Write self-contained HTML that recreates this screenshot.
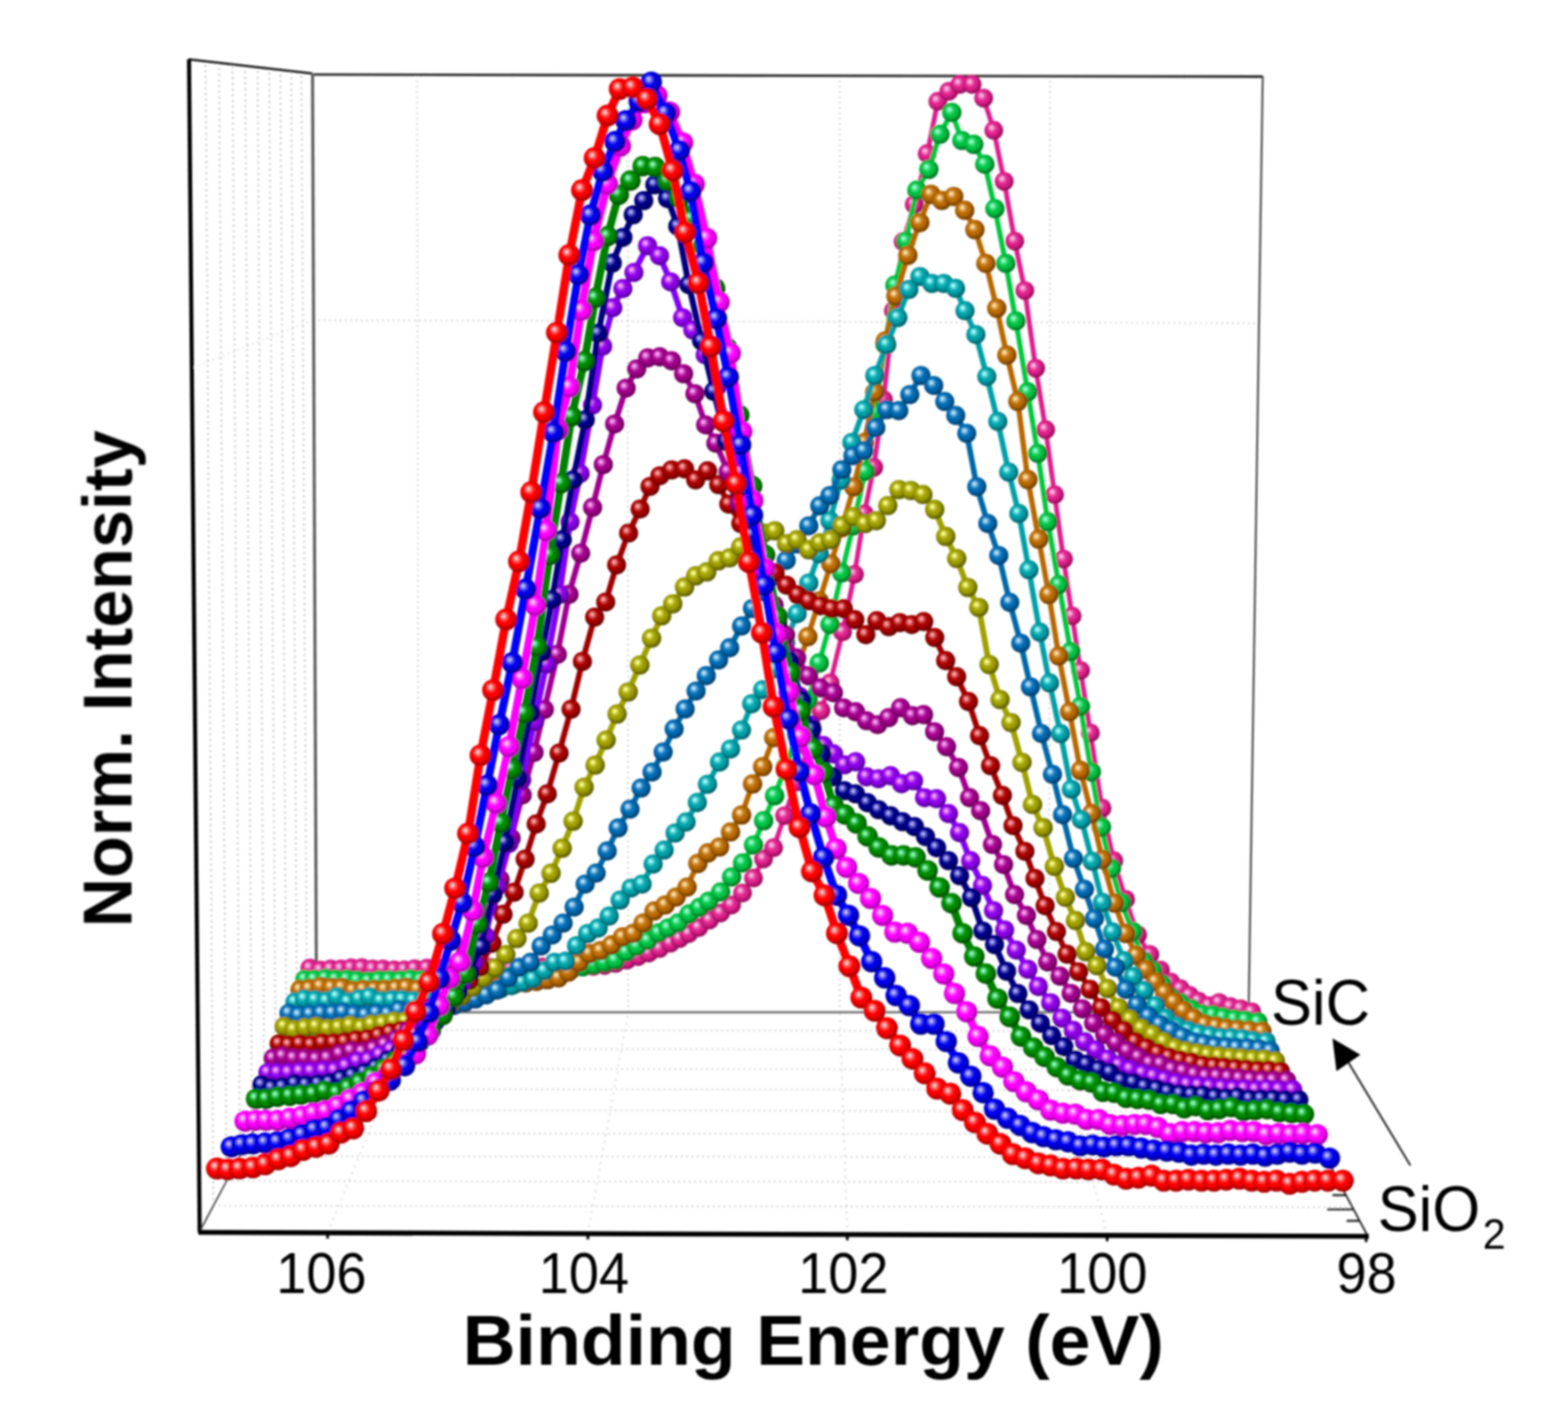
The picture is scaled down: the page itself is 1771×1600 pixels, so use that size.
<!DOCTYPE html>
<html lang="en"><head><meta charset="utf-8"><title>Si 2p XPS depth profile</title>
<style>html,body{margin:0;padding:0;background:#fff}body{width:1771px;height:1600px;overflow:hidden}svg{display:block}text{font-family:"Liberation Sans",sans-serif;fill:#000}</style></head><body>
<svg width="1771" height="1600" viewBox="0 0 1771 1600">
<defs>
<radialGradient id="g-red" cx="0.46" cy="0.45" r="0.58" fx="0.36" fy="0.34"><stop offset="0" stop-color="#ffc4c4"/><stop offset="0.09" stop-color="#ffc4c4"/><stop offset="0.24" stop-color="#ff5858"/><stop offset="0.44" stop-color="#ff0000"/><stop offset="0.58" stop-color="#ff0000"/><stop offset="0.93" stop-color="#a00000"/></radialGradient>
<radialGradient id="g-blue" cx="0.46" cy="0.45" r="0.58" fx="0.36" fy="0.34"><stop offset="0" stop-color="#bcbcff"/><stop offset="0.09" stop-color="#bcbcff"/><stop offset="0.24" stop-color="#5555f5"/><stop offset="0.44" stop-color="#0000ec"/><stop offset="0.58" stop-color="#0000ec"/><stop offset="0.93" stop-color="#000088"/></radialGradient>
<radialGradient id="g-magenta" cx="0.46" cy="0.45" r="0.58" fx="0.36" fy="0.34"><stop offset="0" stop-color="#ffc8ff"/><stop offset="0.09" stop-color="#ffc8ff"/><stop offset="0.24" stop-color="#ff5aff"/><stop offset="0.44" stop-color="#ff00ff"/><stop offset="0.58" stop-color="#ff00ff"/><stop offset="0.93" stop-color="#a800a8"/></radialGradient>
<radialGradient id="g-green" cx="0.46" cy="0.45" r="0.58" fx="0.36" fy="0.34"><stop offset="0" stop-color="#88ffbc"/><stop offset="0.09" stop-color="#88ffbc"/><stop offset="0.24" stop-color="#3dc055"/><stop offset="0.44" stop-color="#008c00"/><stop offset="0.58" stop-color="#008c00"/><stop offset="0.93" stop-color="#004c00"/></radialGradient>
<radialGradient id="g-navy" cx="0.46" cy="0.45" r="0.58" fx="0.36" fy="0.34"><stop offset="0" stop-color="#b0b0ff"/><stop offset="0.09" stop-color="#b0b0ff"/><stop offset="0.24" stop-color="#4f4fc0"/><stop offset="0.44" stop-color="#00008c"/><stop offset="0.58" stop-color="#00008c"/><stop offset="0.93" stop-color="#00004c"/></radialGradient>
<radialGradient id="g-violet" cx="0.46" cy="0.45" r="0.58" fx="0.36" fy="0.34"><stop offset="0" stop-color="#ffa8ff"/><stop offset="0.09" stop-color="#ffa8ff"/><stop offset="0.24" stop-color="#c24cf5"/><stop offset="0.44" stop-color="#9000ec"/><stop offset="0.58" stop-color="#9000ec"/><stop offset="0.93" stop-color="#520094"/></radialGradient>
<radialGradient id="g-purple" cx="0.46" cy="0.45" r="0.58" fx="0.36" fy="0.34"><stop offset="0" stop-color="#ffa8ff"/><stop offset="0.09" stop-color="#ffa8ff"/><stop offset="0.24" stop-color="#cd4cc0"/><stop offset="0.44" stop-color="#a4008c"/><stop offset="0.58" stop-color="#a4008c"/><stop offset="0.93" stop-color="#600052"/></radialGradient>
<radialGradient id="g-darkred" cx="0.46" cy="0.45" r="0.58" fx="0.36" fy="0.34"><stop offset="0" stop-color="#ffa8a8"/><stop offset="0.09" stop-color="#ffa8a8"/><stop offset="0.24" stop-color="#d14c4c"/><stop offset="0.44" stop-color="#ac0000"/><stop offset="0.58" stop-color="#ac0000"/><stop offset="0.93" stop-color="#600000"/></radialGradient>
<radialGradient id="g-olive" cx="0.46" cy="0.45" r="0.58" fx="0.36" fy="0.34"><stop offset="0" stop-color="#ffff90"/><stop offset="0.09" stop-color="#ffff90"/><stop offset="0.24" stop-color="#cbcb41"/><stop offset="0.44" stop-color="#a0a000"/><stop offset="0.58" stop-color="#a0a000"/><stop offset="0.93" stop-color="#585800"/></radialGradient>
<radialGradient id="g-steel" cx="0.46" cy="0.45" r="0.58" fx="0.36" fy="0.34"><stop offset="0" stop-color="#b8e8ff"/><stop offset="0.09" stop-color="#b8e8ff"/><stop offset="0.24" stop-color="#53a4d6"/><stop offset="0.44" stop-color="#006cb4"/><stop offset="0.58" stop-color="#006cb4"/><stop offset="0.93" stop-color="#003c68"/></radialGradient>
<radialGradient id="g-teal" cx="0.46" cy="0.45" r="0.58" fx="0.36" fy="0.34"><stop offset="0" stop-color="#a8ffff"/><stop offset="0.09" stop-color="#a8ffff"/><stop offset="0.24" stop-color="#4ccdd1"/><stop offset="0.44" stop-color="#00a4ac"/><stop offset="0.58" stop-color="#00a4ac"/><stop offset="0.93" stop-color="#005c64"/></radialGradient>
<radialGradient id="g-brown" cx="0.46" cy="0.45" r="0.58" fx="0.36" fy="0.34"><stop offset="0" stop-color="#ffe4a8"/><stop offset="0.09" stop-color="#ffe4a8"/><stop offset="0.24" stop-color="#daa24e"/><stop offset="0.44" stop-color="#bc6c04"/><stop offset="0.58" stop-color="#bc6c04"/><stop offset="0.93" stop-color="#6c3a00"/></radialGradient>
<radialGradient id="g-sgreen" cx="0.46" cy="0.45" r="0.58" fx="0.36" fy="0.34"><stop offset="0" stop-color="#98ffd0"/><stop offset="0.09" stop-color="#98ffd0"/><stop offset="0.24" stop-color="#44df83"/><stop offset="0.44" stop-color="#00c444"/><stop offset="0.58" stop-color="#00c444"/><stop offset="0.93" stop-color="#007020"/></radialGradient>
<radialGradient id="g-pink" cx="0.46" cy="0.45" r="0.58" fx="0.36" fy="0.34"><stop offset="0" stop-color="#ffc0ec"/><stop offset="0.09" stop-color="#ffc0ec"/><stop offset="0.24" stop-color="#ee68b7"/><stop offset="0.44" stop-color="#e0208c"/><stop offset="0.58" stop-color="#e0208c"/><stop offset="0.93" stop-color="#8c0a54"/></radialGradient>
<filter id="soft" x="-2%" y="-2%" width="104%" height="104%"><feGaussianBlur stdDeviation="1.05"/></filter>
</defs>
<rect width="1771" height="1600" fill="#fff"/>
<g filter="url(#soft)">
<g id="frame" fill="none">
<line x1="471.0" y1="85.0" x2="473.0" y2="1143.0" stroke="#c6c6c6" stroke-width="1.6" stroke-dasharray="2 4"/>
<line x1="709.0" y1="85.0" x2="709.5" y2="1143.0" stroke="#c6c6c6" stroke-width="1.6" stroke-dasharray="2 4"/>
<line x1="948.5" y1="85.0" x2="948.5" y2="1143.0" stroke="#c6c6c6" stroke-width="1.6" stroke-dasharray="2 4"/>
<line x1="1186.0" y1="85.0" x2="1185.0" y2="1143.0" stroke="#c6c6c6" stroke-width="1.6" stroke-dasharray="2 4"/>
<line x1="353.5" y1="361.5" x2="1425.0" y2="365.0" stroke="#c6c6c6" stroke-width="1.6" stroke-dasharray="2 4"/>
<line x1="353.5" y1="361.5" x2="216.0" y2="416.0" stroke="#d8d8d8" stroke-width="1.4" stroke-dasharray="2 4"/>
<line x1="346.8" y1="1163.0" x2="1420.9" y2="1164.5" stroke="#c6c6c6" stroke-width="1.6" stroke-dasharray="2 4"/>
<line x1="346.8" y1="1163.0" x2="340.4" y2="81.7" stroke="#b4b4b4" stroke-width="1.6" stroke-dasharray="2.2 4.2"/>
<line x1="335.6" y1="1184.0" x2="1432.1" y2="1185.5" stroke="#c6c6c6" stroke-width="1.6" stroke-dasharray="2 4"/>
<line x1="335.6" y1="1184.0" x2="328.9" y2="80.4" stroke="#b4b4b4" stroke-width="1.6" stroke-dasharray="2.2 4.2"/>
<line x1="323.6" y1="1206.5" x2="1444.1" y2="1208.0" stroke="#c6c6c6" stroke-width="1.6" stroke-dasharray="2 4"/>
<line x1="323.6" y1="1206.5" x2="316.7" y2="78.9" stroke="#b4b4b4" stroke-width="1.6" stroke-dasharray="2.2 4.2"/>
<line x1="311.4" y1="1229.5" x2="1456.4" y2="1231.0" stroke="#c6c6c6" stroke-width="1.6" stroke-dasharray="2 4"/>
<line x1="311.4" y1="1229.5" x2="304.1" y2="77.4" stroke="#b4b4b4" stroke-width="1.6" stroke-dasharray="2.2 4.2"/>
<line x1="298.6" y1="1253.5" x2="1469.1" y2="1255.0" stroke="#c6c6c6" stroke-width="1.6" stroke-dasharray="2 4"/>
<line x1="298.6" y1="1253.5" x2="291.0" y2="75.9" stroke="#b4b4b4" stroke-width="1.6" stroke-dasharray="2.2 4.2"/>
<line x1="284.7" y1="1279.5" x2="1483.0" y2="1281.0" stroke="#c6c6c6" stroke-width="1.6" stroke-dasharray="2 4"/>
<line x1="284.7" y1="1279.5" x2="276.9" y2="74.2" stroke="#b4b4b4" stroke-width="1.6" stroke-dasharray="2.2 4.2"/>
<line x1="270.9" y1="1305.5" x2="1496.8" y2="1307.0" stroke="#c6c6c6" stroke-width="1.6" stroke-dasharray="2 4"/>
<line x1="270.9" y1="1305.5" x2="262.7" y2="72.5" stroke="#b4b4b4" stroke-width="1.6" stroke-dasharray="2.2 4.2"/>
<line x1="255.9" y1="1333.5" x2="1511.7" y2="1335.0" stroke="#c6c6c6" stroke-width="1.6" stroke-dasharray="2 4"/>
<line x1="255.9" y1="1333.5" x2="247.4" y2="70.7" stroke="#b4b4b4" stroke-width="1.6" stroke-dasharray="2.2 4.2"/>
<line x1="241.0" y1="1361.5" x2="1526.6" y2="1363.0" stroke="#c6c6c6" stroke-width="1.6" stroke-dasharray="2 4"/>
<line x1="241.0" y1="1361.5" x2="232.2" y2="68.9" stroke="#b4b4b4" stroke-width="1.6" stroke-dasharray="2.2 4.2"/>
<line x1="370.0" y1="1392.0" x2="472.5" y2="1143.0" stroke="#c8c8c8" stroke-width="1.5" stroke-dasharray="2 6"/>
<line x1="664.0" y1="1393.0" x2="709.5" y2="1143.0" stroke="#c8c8c8" stroke-width="1.5" stroke-dasharray="2 6"/>
<line x1="957.0" y1="1394.0" x2="948.5" y2="1143.0" stroke="#c8c8c8" stroke-width="1.5" stroke-dasharray="2 6"/>
<line x1="1250.5" y1="1395.0" x2="1185.5" y2="1143.0" stroke="#c8c8c8" stroke-width="1.5" stroke-dasharray="2 6"/>
<line x1="357.5" y1="1143.0" x2="1410.3" y2="1143.0" stroke="#6e6e6e" stroke-width="2.6"/>
<line x1="352.5" y1="84.2" x2="1426.2" y2="86.5" stroke="#2a2a2a" stroke-width="2.8"/>
<line x1="353.0" y1="83.0" x2="357.5" y2="1143.0" stroke="#5c5c5c" stroke-width="3.4"/>
<line x1="1426.2" y1="86.0" x2="1410.3" y2="1143.0" stroke="#4a4a4a" stroke-width="2.2"/>
<line x1="213.0" y1="67.0" x2="352.5" y2="83.0" stroke="#111" stroke-width="2.4"/>
<line x1="213.5" y1="67.0" x2="225.5" y2="1391.5" stroke="#000" stroke-width="4.6"/>
<line x1="225.0" y1="1391.5" x2="357.5" y2="1143.0" stroke="#333" stroke-width="1.6"/>
<line x1="1545.0" y1="1396.0" x2="1410.3" y2="1143.0" stroke="#222" stroke-width="2.0"/>
<line x1="224.0" y1="1391.5" x2="1546.0" y2="1396.0" stroke="#000" stroke-width="5.6"/>
<line x1="370.0" y1="1392.0" x2="370.0" y2="1398.5" stroke="#000" stroke-width="3.0"/>
<line x1="664.0" y1="1393.0" x2="664.0" y2="1399.5" stroke="#000" stroke-width="3.0"/>
<line x1="957.0" y1="1394.0" x2="957.0" y2="1400.5" stroke="#000" stroke-width="3.0"/>
<line x1="1250.5" y1="1395.0" x2="1250.5" y2="1401.5" stroke="#000" stroke-width="3.0"/>
<line x1="1543.0" y1="1396.0" x2="1543.0" y2="1402.5" stroke="#000" stroke-width="3.0"/>
<line x1="1505.0" y1="1349.5" x2="1520.0" y2="1349.5" stroke="#111" stroke-width="2.2"/>
<line x1="1499.0" y1="1365.5" x2="1528.0" y2="1365.5" stroke="#111" stroke-width="2.2"/>
<line x1="1521.0" y1="1378.5" x2="1535.0" y2="1378.5" stroke="#111" stroke-width="2.2"/>
</g>
<g id="s-pink">
<polyline points="350.0,1093.1 361.8,1095.4 373.4,1094.2 385.0,1094.1 396.6,1092.9 408.6,1092.7 420.8,1094.0 432.4,1094.0 445.0,1095.1 456.7,1095.0 468.3,1093.8 482.1,1093.0 493.3,1092.8 505.4,1092.6 517.3,1092.5 529.2,1092.4 541.1,1092.3 553.0,1092.2 564.9,1092.2 576.9,1092.1 588.8,1092.1 600.8,1092.0 612.7,1091.9 624.4,1091.9 635.9,1091.7 647.3,1091.6 658.9,1091.4 670.3,1091.2 682.9,1090.1 695.4,1087.7 708.2,1084.1 720.7,1080.1 732.7,1076.1 745.0,1071.0 757.3,1064.9 767.6,1059.7 778.0,1054.1 789.1,1047.4 801.4,1038.8 813.9,1030.8 826.3,1021.8 838.7,1008.3 851.1,991.4 862.4,969.8 873.8,957.2 886.2,921.0 899.5,883.0 912.9,844.5 927.3,802.3 937.8,771.1 951.7,713.4 965.1,648.6 976.2,580.0 986.9,527.7 997.9,451.3 1009.1,350.7 1020.1,272.7 1032.6,230.8 1047.3,173.4 1059.3,114.4 1071.7,103.1 1084.2,95.3 1098.0,95.3 1111.0,110.8 1122.5,147.2 1134.2,204.8 1146.2,272.3 1157.5,328.1 1169.8,415.8 1181.1,485.2 1191.1,558.5 1201.2,631.3 1210.9,695.5 1220.5,757.1 1231.6,827.6 1244.7,912.4 1258.0,971.9 1271.4,1015.6 1285.0,1055.6 1298.7,1077.8 1310.7,1095.3 1322.4,1108.9 1333.2,1116.4 1343.4,1123.8 1353.6,1130.3 1365.3,1135.5 1376.9,1132.1 1389.6,1136.7 1401.2,1139.0 1413.8,1142.5" fill="none" stroke="#e01c8c" stroke-width="5.4" stroke-linejoin="round" stroke-linecap="round"/>
<g fill="url(#g-pink)">
<circle cx="350.0" cy="1093.1" r="10.6"/>
<circle cx="361.8" cy="1095.4" r="10.6"/>
<circle cx="373.4" cy="1094.2" r="10.6"/>
<circle cx="385.0" cy="1094.1" r="10.6"/>
<circle cx="396.6" cy="1092.9" r="10.6"/>
<circle cx="408.6" cy="1092.7" r="10.6"/>
<circle cx="420.8" cy="1094.0" r="10.6"/>
<circle cx="432.4" cy="1094.0" r="10.6"/>
<circle cx="445.0" cy="1095.1" r="10.6"/>
<circle cx="456.7" cy="1095.0" r="10.6"/>
<circle cx="468.3" cy="1093.8" r="10.6"/>
<circle cx="482.1" cy="1093.0" r="10.6"/>
<circle cx="493.3" cy="1092.8" r="10.6"/>
<circle cx="505.4" cy="1092.6" r="10.6"/>
<circle cx="517.3" cy="1092.5" r="10.6"/>
<circle cx="529.2" cy="1092.4" r="10.6"/>
<circle cx="541.1" cy="1092.3" r="10.6"/>
<circle cx="553.0" cy="1092.2" r="10.6"/>
<circle cx="564.9" cy="1092.2" r="10.6"/>
<circle cx="576.9" cy="1092.1" r="10.6"/>
<circle cx="588.8" cy="1092.1" r="10.6"/>
<circle cx="600.8" cy="1092.0" r="10.6"/>
<circle cx="612.7" cy="1091.9" r="10.6"/>
<circle cx="624.4" cy="1091.9" r="10.6"/>
<circle cx="635.9" cy="1091.7" r="10.6"/>
<circle cx="647.3" cy="1091.6" r="10.6"/>
<circle cx="658.9" cy="1091.4" r="10.6"/>
<circle cx="670.3" cy="1091.2" r="10.6"/>
<circle cx="682.9" cy="1090.1" r="10.6"/>
<circle cx="695.4" cy="1087.7" r="10.6"/>
<circle cx="708.2" cy="1084.1" r="10.6"/>
<circle cx="720.7" cy="1080.1" r="10.6"/>
<circle cx="732.7" cy="1076.1" r="10.6"/>
<circle cx="745.0" cy="1071.0" r="10.6"/>
<circle cx="757.3" cy="1064.9" r="10.6"/>
<circle cx="767.6" cy="1059.7" r="10.6"/>
<circle cx="778.0" cy="1054.1" r="10.6"/>
<circle cx="789.1" cy="1047.4" r="10.6"/>
<circle cx="801.4" cy="1038.8" r="10.6"/>
<circle cx="813.9" cy="1030.8" r="10.6"/>
<circle cx="826.3" cy="1021.8" r="10.6"/>
<circle cx="838.7" cy="1008.3" r="10.6"/>
<circle cx="851.1" cy="991.4" r="10.6"/>
<circle cx="862.4" cy="969.8" r="10.6"/>
<circle cx="873.8" cy="957.2" r="10.6"/>
<circle cx="886.2" cy="921.0" r="10.6"/>
<circle cx="899.5" cy="883.0" r="10.6"/>
<circle cx="912.9" cy="844.5" r="10.6"/>
<circle cx="927.3" cy="802.3" r="10.6"/>
<circle cx="937.8" cy="771.1" r="10.6"/>
<circle cx="951.7" cy="713.4" r="10.6"/>
<circle cx="965.1" cy="648.6" r="10.6"/>
<circle cx="976.2" cy="580.0" r="10.6"/>
<circle cx="986.9" cy="527.7" r="10.6"/>
<circle cx="997.9" cy="451.3" r="10.6"/>
<circle cx="1009.1" cy="350.7" r="10.6"/>
<circle cx="1020.1" cy="272.7" r="10.6"/>
<circle cx="1032.6" cy="230.8" r="10.6"/>
<circle cx="1047.3" cy="173.4" r="10.6"/>
<circle cx="1059.3" cy="114.4" r="10.6"/>
<circle cx="1071.7" cy="103.1" r="10.6"/>
<circle cx="1084.2" cy="95.3" r="10.6"/>
<circle cx="1098.0" cy="95.3" r="10.6"/>
<circle cx="1111.0" cy="110.8" r="10.6"/>
<circle cx="1122.5" cy="147.2" r="10.6"/>
<circle cx="1134.2" cy="204.8" r="10.6"/>
<circle cx="1146.2" cy="272.3" r="10.6"/>
<circle cx="1157.5" cy="328.1" r="10.6"/>
<circle cx="1169.8" cy="415.8" r="10.6"/>
<circle cx="1181.1" cy="485.2" r="10.6"/>
<circle cx="1191.1" cy="558.5" r="10.6"/>
<circle cx="1201.2" cy="631.3" r="10.6"/>
<circle cx="1210.9" cy="695.5" r="10.6"/>
<circle cx="1220.5" cy="757.1" r="10.6"/>
<circle cx="1231.6" cy="827.6" r="10.6"/>
<circle cx="1244.7" cy="912.4" r="10.6"/>
<circle cx="1258.0" cy="971.9" r="10.6"/>
<circle cx="1271.4" cy="1015.6" r="10.6"/>
<circle cx="1285.0" cy="1055.6" r="10.6"/>
<circle cx="1298.7" cy="1077.8" r="10.6"/>
<circle cx="1310.7" cy="1095.3" r="10.6"/>
<circle cx="1322.4" cy="1108.9" r="10.6"/>
<circle cx="1333.2" cy="1116.4" r="10.6"/>
<circle cx="1343.4" cy="1123.8" r="10.6"/>
<circle cx="1353.6" cy="1130.3" r="10.6"/>
<circle cx="1365.3" cy="1135.5" r="10.6"/>
<circle cx="1376.9" cy="1132.1" r="10.6"/>
<circle cx="1389.6" cy="1136.7" r="10.6"/>
<circle cx="1401.2" cy="1139.0" r="10.6"/>
<circle cx="1413.8" cy="1142.5" r="10.6"/>
</g></g>
<g id="s-sgreen">
<polyline points="344.4,1105.8 355.0,1105.8 367.6,1104.6 379.2,1105.7 391.9,1105.7 403.5,1106.8 416.1,1107.9 427.8,1106.7 439.4,1106.6 452.0,1106.6 463.6,1105.4 475.2,1106.5 487.9,1106.4 500.1,1106.2 512.7,1105.9 525.3,1105.5 537.6,1105.0 549.7,1104.3 561.8,1103.5 573.8,1102.6 585.9,1101.5 598.0,1100.2 610.1,1098.9 622.1,1097.3 634.2,1095.6 646.3,1093.7 658.4,1091.6 670.6,1089.3 682.7,1086.8 694.7,1084.1 707.2,1075.0 719.3,1068.5 731.7,1061.9 743.7,1053.3 754.6,1047.8 766.0,1042.1 778.3,1032.0 789.9,1024.7 800.3,1017.7 813.9,1007.1 826.3,990.2 838.7,974.4 851.1,954.1 862.5,926.7 874.9,898.5 887.4,865.7 899.9,830.0 912.7,790.7 925.3,748.5 937.4,705.0 950.8,646.7 963.6,593.7 977.3,532.1 988.3,465.5 999.5,388.6 1010.8,322.0 1023.2,272.3 1035.6,214.7 1049.1,191.3 1061.6,151.6 1075.0,126.9 1086.4,158.6 1099.8,163.0 1112.3,185.4 1123.7,235.6 1136.0,297.4 1147.4,362.4 1160.8,442.4 1172.1,511.9 1183.5,589.2 1195.9,660.1 1209.3,735.7 1220.3,797.6 1232.6,871.5 1244.0,934.0 1255.3,980.5 1266.7,1019.2 1279.4,1051.9 1291.4,1084.8 1301.7,1095.9 1311.9,1111.0 1322.1,1125.6 1333.1,1132.1 1345.6,1139.0 1357.3,1144.8 1369.9,1146.0 1381.6,1148.3 1394.2,1150.6 1406.6,1151.8 1420.7,1154.0" fill="none" stroke="#00c83c" stroke-width="5.7" stroke-linejoin="round" stroke-linecap="round"/>
<g fill="url(#g-sgreen)">
<circle cx="344.4" cy="1105.8" r="10.9"/>
<circle cx="355.0" cy="1105.8" r="10.9"/>
<circle cx="367.6" cy="1104.6" r="10.9"/>
<circle cx="379.2" cy="1105.7" r="10.9"/>
<circle cx="391.9" cy="1105.7" r="10.9"/>
<circle cx="403.5" cy="1106.8" r="10.9"/>
<circle cx="416.1" cy="1107.9" r="10.9"/>
<circle cx="427.8" cy="1106.7" r="10.9"/>
<circle cx="439.4" cy="1106.6" r="10.9"/>
<circle cx="452.0" cy="1106.6" r="10.9"/>
<circle cx="463.6" cy="1105.4" r="10.9"/>
<circle cx="475.2" cy="1106.5" r="10.9"/>
<circle cx="487.9" cy="1106.4" r="10.9"/>
<circle cx="500.1" cy="1106.2" r="10.9"/>
<circle cx="512.7" cy="1105.9" r="10.9"/>
<circle cx="525.3" cy="1105.5" r="10.9"/>
<circle cx="537.6" cy="1105.0" r="10.9"/>
<circle cx="549.7" cy="1104.3" r="10.9"/>
<circle cx="561.8" cy="1103.5" r="10.9"/>
<circle cx="573.8" cy="1102.6" r="10.9"/>
<circle cx="585.9" cy="1101.5" r="10.9"/>
<circle cx="598.0" cy="1100.2" r="10.9"/>
<circle cx="610.1" cy="1098.9" r="10.9"/>
<circle cx="622.1" cy="1097.3" r="10.9"/>
<circle cx="634.2" cy="1095.6" r="10.9"/>
<circle cx="646.3" cy="1093.7" r="10.9"/>
<circle cx="658.4" cy="1091.6" r="10.9"/>
<circle cx="670.6" cy="1089.3" r="10.9"/>
<circle cx="682.7" cy="1086.8" r="10.9"/>
<circle cx="694.7" cy="1084.1" r="10.9"/>
<circle cx="707.2" cy="1075.0" r="10.9"/>
<circle cx="719.3" cy="1068.5" r="10.9"/>
<circle cx="731.7" cy="1061.9" r="10.9"/>
<circle cx="743.7" cy="1053.3" r="10.9"/>
<circle cx="754.6" cy="1047.8" r="10.9"/>
<circle cx="766.0" cy="1042.1" r="10.9"/>
<circle cx="778.3" cy="1032.0" r="10.9"/>
<circle cx="789.9" cy="1024.7" r="10.9"/>
<circle cx="800.3" cy="1017.7" r="10.9"/>
<circle cx="813.9" cy="1007.1" r="10.9"/>
<circle cx="826.3" cy="990.2" r="10.9"/>
<circle cx="838.7" cy="974.4" r="10.9"/>
<circle cx="851.1" cy="954.1" r="10.9"/>
<circle cx="862.5" cy="926.7" r="10.9"/>
<circle cx="874.9" cy="898.5" r="10.9"/>
<circle cx="887.4" cy="865.7" r="10.9"/>
<circle cx="899.9" cy="830.0" r="10.9"/>
<circle cx="912.7" cy="790.7" r="10.9"/>
<circle cx="925.3" cy="748.5" r="10.9"/>
<circle cx="937.4" cy="705.0" r="10.9"/>
<circle cx="950.8" cy="646.7" r="10.9"/>
<circle cx="963.6" cy="593.7" r="10.9"/>
<circle cx="977.3" cy="532.1" r="10.9"/>
<circle cx="988.3" cy="465.5" r="10.9"/>
<circle cx="999.5" cy="388.6" r="10.9"/>
<circle cx="1010.8" cy="322.0" r="10.9"/>
<circle cx="1023.2" cy="272.3" r="10.9"/>
<circle cx="1035.6" cy="214.7" r="10.9"/>
<circle cx="1049.1" cy="191.3" r="10.9"/>
<circle cx="1061.6" cy="151.6" r="10.9"/>
<circle cx="1075.0" cy="126.9" r="10.9"/>
<circle cx="1086.4" cy="158.6" r="10.9"/>
<circle cx="1099.8" cy="163.0" r="10.9"/>
<circle cx="1112.3" cy="185.4" r="10.9"/>
<circle cx="1123.7" cy="235.6" r="10.9"/>
<circle cx="1136.0" cy="297.4" r="10.9"/>
<circle cx="1147.4" cy="362.4" r="10.9"/>
<circle cx="1160.8" cy="442.4" r="10.9"/>
<circle cx="1172.1" cy="511.9" r="10.9"/>
<circle cx="1183.5" cy="589.2" r="10.9"/>
<circle cx="1195.9" cy="660.1" r="10.9"/>
<circle cx="1209.3" cy="735.7" r="10.9"/>
<circle cx="1220.3" cy="797.6" r="10.9"/>
<circle cx="1232.6" cy="871.5" r="10.9"/>
<circle cx="1244.0" cy="934.0" r="10.9"/>
<circle cx="1255.3" cy="980.5" r="10.9"/>
<circle cx="1266.7" cy="1019.2" r="10.9"/>
<circle cx="1279.4" cy="1051.9" r="10.9"/>
<circle cx="1291.4" cy="1084.8" r="10.9"/>
<circle cx="1301.7" cy="1095.9" r="10.9"/>
<circle cx="1311.9" cy="1111.0" r="10.9"/>
<circle cx="1322.1" cy="1125.6" r="10.9"/>
<circle cx="1333.1" cy="1132.1" r="10.9"/>
<circle cx="1345.6" cy="1139.0" r="10.9"/>
<circle cx="1357.3" cy="1144.8" r="10.9"/>
<circle cx="1369.9" cy="1146.0" r="10.9"/>
<circle cx="1381.6" cy="1148.3" r="10.9"/>
<circle cx="1394.2" cy="1150.6" r="10.9"/>
<circle cx="1406.6" cy="1151.8" r="10.9"/>
<circle cx="1420.7" cy="1154.0" r="10.9"/>
</g></g>
<g id="s-brown">
<polyline points="338.9,1117.5 349.4,1116.2 361.9,1113.8 374.5,1115.0 386.2,1114.9 398.8,1118.3 410.5,1117.1 423.1,1117.1 434.7,1117.1 447.4,1115.9 459.0,1114.7 471.6,1116.9 483.7,1116.8 495.9,1116.6 508.2,1116.3 520.4,1115.9 532.5,1115.3 544.6,1114.5 556.8,1113.6 568.9,1112.5 581.1,1111.3 593.6,1109.8 606.0,1108.1 618.2,1106.2 630.8,1104.0 642.1,1097.5 654.0,1086.6 665.6,1076.7 678.1,1073.3 690.6,1067.0 703.1,1057.9 715.1,1053.9 726.4,1042.2 738.8,1028.6 751.2,1021.9 763.6,1012.8 776.0,1001.6 788.2,975.0 799.6,963.0 812.7,956.3 825.1,939.4 837.6,920.2 850.0,885.2 861.4,865.7 873.8,832.9 886.7,796.2 899.5,758.1 912.4,718.9 925.3,678.6 938.4,636.6 951.0,595.9 964.3,549.8 976.1,499.5 988.0,442.7 1000.0,384.9 1011.9,334.3 1025.4,288.3 1038.9,251.3 1051.4,219.5 1063.8,226.3 1077.2,221.8 1089.6,237.4 1101.1,259.2 1113.5,297.4 1125.8,348.0 1137.2,401.0 1149.6,453.2 1160.9,541.5 1173.2,608.7 1184.6,671.2 1195.8,740.6 1208.0,803.6 1220.3,870.0 1232.8,918.6 1245.2,970.5 1258.6,1019.7 1271.3,1054.0 1283.4,1078.6 1294.5,1094.7 1305.2,1108.5 1315.5,1120.6 1325.9,1131.3 1336.7,1141.0 1348.1,1149.5 1360.7,1156.4 1373.4,1158.7 1385.1,1161.0 1397.7,1162.1 1411.0,1163.3 1425.3,1164.5" fill="none" stroke="#b86800" stroke-width="6.0" stroke-linejoin="round" stroke-linecap="round"/>
<g fill="url(#g-brown)">
<circle cx="338.9" cy="1117.5" r="10.9"/>
<circle cx="349.4" cy="1116.2" r="10.9"/>
<circle cx="361.9" cy="1113.8" r="10.9"/>
<circle cx="374.5" cy="1115.0" r="10.9"/>
<circle cx="386.2" cy="1114.9" r="10.9"/>
<circle cx="398.8" cy="1118.3" r="10.9"/>
<circle cx="410.5" cy="1117.1" r="10.9"/>
<circle cx="423.1" cy="1117.1" r="10.9"/>
<circle cx="434.7" cy="1117.1" r="10.9"/>
<circle cx="447.4" cy="1115.9" r="10.9"/>
<circle cx="459.0" cy="1114.7" r="10.9"/>
<circle cx="471.6" cy="1116.9" r="10.9"/>
<circle cx="483.7" cy="1116.8" r="10.9"/>
<circle cx="495.9" cy="1116.6" r="10.9"/>
<circle cx="508.2" cy="1116.3" r="10.9"/>
<circle cx="520.4" cy="1115.9" r="10.9"/>
<circle cx="532.5" cy="1115.3" r="10.9"/>
<circle cx="544.6" cy="1114.5" r="10.9"/>
<circle cx="556.8" cy="1113.6" r="10.9"/>
<circle cx="568.9" cy="1112.5" r="10.9"/>
<circle cx="581.1" cy="1111.3" r="10.9"/>
<circle cx="593.6" cy="1109.8" r="10.9"/>
<circle cx="606.0" cy="1108.1" r="10.9"/>
<circle cx="618.2" cy="1106.2" r="10.9"/>
<circle cx="630.8" cy="1104.0" r="10.9"/>
<circle cx="642.1" cy="1097.5" r="10.9"/>
<circle cx="654.0" cy="1086.6" r="10.9"/>
<circle cx="665.6" cy="1076.7" r="10.9"/>
<circle cx="678.1" cy="1073.3" r="10.9"/>
<circle cx="690.6" cy="1067.0" r="10.9"/>
<circle cx="703.1" cy="1057.9" r="10.9"/>
<circle cx="715.1" cy="1053.9" r="10.9"/>
<circle cx="726.4" cy="1042.2" r="10.9"/>
<circle cx="738.8" cy="1028.6" r="10.9"/>
<circle cx="751.2" cy="1021.9" r="10.9"/>
<circle cx="763.6" cy="1012.8" r="10.9"/>
<circle cx="776.0" cy="1001.6" r="10.9"/>
<circle cx="788.2" cy="975.0" r="10.9"/>
<circle cx="799.6" cy="963.0" r="10.9"/>
<circle cx="812.7" cy="956.3" r="10.9"/>
<circle cx="825.1" cy="939.4" r="10.9"/>
<circle cx="837.6" cy="920.2" r="10.9"/>
<circle cx="850.0" cy="885.2" r="10.9"/>
<circle cx="861.4" cy="865.7" r="10.9"/>
<circle cx="873.8" cy="832.9" r="10.9"/>
<circle cx="886.7" cy="796.2" r="10.9"/>
<circle cx="899.5" cy="758.1" r="10.9"/>
<circle cx="912.4" cy="718.9" r="10.9"/>
<circle cx="925.3" cy="678.6" r="10.9"/>
<circle cx="938.4" cy="636.6" r="10.9"/>
<circle cx="951.0" cy="595.9" r="10.9"/>
<circle cx="964.3" cy="549.8" r="10.9"/>
<circle cx="976.1" cy="499.5" r="10.9"/>
<circle cx="988.0" cy="442.7" r="10.9"/>
<circle cx="1000.0" cy="384.9" r="10.9"/>
<circle cx="1011.9" cy="334.3" r="10.9"/>
<circle cx="1025.4" cy="288.3" r="10.9"/>
<circle cx="1038.9" cy="251.3" r="10.9"/>
<circle cx="1051.4" cy="219.5" r="10.9"/>
<circle cx="1063.8" cy="226.3" r="10.9"/>
<circle cx="1077.2" cy="221.8" r="10.9"/>
<circle cx="1089.6" cy="237.4" r="10.9"/>
<circle cx="1101.1" cy="259.2" r="10.9"/>
<circle cx="1113.5" cy="297.4" r="10.9"/>
<circle cx="1125.8" cy="348.0" r="10.9"/>
<circle cx="1137.2" cy="401.0" r="10.9"/>
<circle cx="1149.6" cy="453.2" r="10.9"/>
<circle cx="1160.9" cy="541.5" r="10.9"/>
<circle cx="1173.2" cy="608.7" r="10.9"/>
<circle cx="1184.6" cy="671.2" r="10.9"/>
<circle cx="1195.8" cy="740.6" r="10.9"/>
<circle cx="1208.0" cy="803.6" r="10.9"/>
<circle cx="1220.3" cy="870.0" r="10.9"/>
<circle cx="1232.8" cy="918.6" r="10.9"/>
<circle cx="1245.2" cy="970.5" r="10.9"/>
<circle cx="1258.6" cy="1019.7" r="10.9"/>
<circle cx="1271.3" cy="1054.0" r="10.9"/>
<circle cx="1283.4" cy="1078.6" r="10.9"/>
<circle cx="1294.5" cy="1094.7" r="10.9"/>
<circle cx="1305.2" cy="1108.5" r="10.9"/>
<circle cx="1315.5" cy="1120.6" r="10.9"/>
<circle cx="1325.9" cy="1131.3" r="10.9"/>
<circle cx="1336.7" cy="1141.0" r="10.9"/>
<circle cx="1348.1" cy="1149.5" r="10.9"/>
<circle cx="1360.7" cy="1156.4" r="10.9"/>
<circle cx="1373.4" cy="1158.7" r="10.9"/>
<circle cx="1385.1" cy="1161.0" r="10.9"/>
<circle cx="1397.7" cy="1162.1" r="10.9"/>
<circle cx="1411.0" cy="1163.3" r="10.9"/>
<circle cx="1425.3" cy="1164.5" r="10.9"/>
</g></g>
<g id="s-teal">
<polyline points="333.1,1131.3 343.7,1127.8 356.1,1128.9 368.7,1130.0 380.4,1125.3 393.1,1131.1 405.7,1127.6 417.4,1125.2 430.1,1129.8 442.7,1128.6 454.4,1128.5 467.0,1129.7 479.3,1129.4 491.7,1128.7 504.2,1127.6 516.7,1126.1 529.0,1124.2 541.3,1121.9 553.5,1119.3 565.6,1116.3 577.7,1112.9 589.9,1109.2 602.0,1105.2 614.7,1096.0 626.2,1086.5 638.7,1085.4 651.2,1067.7 663.7,1054.0 675.6,1047.9 688.0,1034.3 700.4,1016.3 712.8,1002.7 725.2,998.2 737.7,975.6 750.1,959.8 762.5,940.5 774.9,928.1 787.6,906.1 799.1,885.5 812.7,860.4 825.1,845.7 837.5,824.3 849.0,794.6 861.4,778.8 874.4,755.1 887.3,725.8 900.3,692.9 913.5,658.2 925.3,625.1 937.3,587.8 950.0,542.0 962.2,499.5 975.6,462.6 988.1,424.0 1001.6,389.1 1014.1,358.5 1026.5,326.8 1039.0,312.2 1052.5,320.0 1065.9,320.0 1079.3,325.5 1089.9,350.8 1102.2,377.7 1114.6,425.1 1127.0,475.8 1139.3,533.1 1150.7,579.8 1162.1,643.3 1174.4,713.8 1185.4,771.1 1197.8,828.3 1210.1,891.2 1221.5,925.4 1233.8,972.5 1245.2,1019.0 1256.6,1052.3 1269.7,1084.9 1280.1,1102.5 1292.5,1118.3 1305.2,1135.5 1316.8,1149.5 1329.5,1158.7 1342.2,1163.3 1353.8,1166.8 1366.5,1169.1 1379.1,1171.4 1390.8,1171.4 1403.5,1172.5 1415.6,1174.9 1430.0,1176.0" fill="none" stroke="#00a0a8" stroke-width="6.2" stroke-linejoin="round" stroke-linecap="round"/>
<g fill="url(#g-teal)">
<circle cx="333.1" cy="1131.3" r="10.8"/>
<circle cx="343.7" cy="1127.8" r="10.8"/>
<circle cx="356.1" cy="1128.9" r="10.8"/>
<circle cx="368.7" cy="1130.0" r="10.8"/>
<circle cx="380.4" cy="1125.3" r="10.8"/>
<circle cx="393.1" cy="1131.1" r="10.8"/>
<circle cx="405.7" cy="1127.6" r="10.8"/>
<circle cx="417.4" cy="1125.2" r="10.8"/>
<circle cx="430.1" cy="1129.8" r="10.8"/>
<circle cx="442.7" cy="1128.6" r="10.8"/>
<circle cx="454.4" cy="1128.5" r="10.8"/>
<circle cx="467.0" cy="1129.7" r="10.8"/>
<circle cx="479.3" cy="1129.4" r="10.8"/>
<circle cx="491.7" cy="1128.7" r="10.8"/>
<circle cx="504.2" cy="1127.6" r="10.8"/>
<circle cx="516.7" cy="1126.1" r="10.8"/>
<circle cx="529.0" cy="1124.2" r="10.8"/>
<circle cx="541.3" cy="1121.9" r="10.8"/>
<circle cx="553.5" cy="1119.3" r="10.8"/>
<circle cx="565.6" cy="1116.3" r="10.8"/>
<circle cx="577.7" cy="1112.9" r="10.8"/>
<circle cx="589.9" cy="1109.2" r="10.8"/>
<circle cx="602.0" cy="1105.2" r="10.8"/>
<circle cx="614.7" cy="1096.0" r="10.8"/>
<circle cx="626.2" cy="1086.5" r="10.8"/>
<circle cx="638.7" cy="1085.4" r="10.8"/>
<circle cx="651.2" cy="1067.7" r="10.8"/>
<circle cx="663.7" cy="1054.0" r="10.8"/>
<circle cx="675.6" cy="1047.9" r="10.8"/>
<circle cx="688.0" cy="1034.3" r="10.8"/>
<circle cx="700.4" cy="1016.3" r="10.8"/>
<circle cx="712.8" cy="1002.7" r="10.8"/>
<circle cx="725.2" cy="998.2" r="10.8"/>
<circle cx="737.7" cy="975.6" r="10.8"/>
<circle cx="750.1" cy="959.8" r="10.8"/>
<circle cx="762.5" cy="940.5" r="10.8"/>
<circle cx="774.9" cy="928.1" r="10.8"/>
<circle cx="787.6" cy="906.1" r="10.8"/>
<circle cx="799.1" cy="885.5" r="10.8"/>
<circle cx="812.7" cy="860.4" r="10.8"/>
<circle cx="825.1" cy="845.7" r="10.8"/>
<circle cx="837.5" cy="824.3" r="10.8"/>
<circle cx="849.0" cy="794.6" r="10.8"/>
<circle cx="861.4" cy="778.8" r="10.8"/>
<circle cx="874.4" cy="755.1" r="10.8"/>
<circle cx="887.3" cy="725.8" r="10.8"/>
<circle cx="900.3" cy="692.9" r="10.8"/>
<circle cx="913.5" cy="658.2" r="10.8"/>
<circle cx="925.3" cy="625.1" r="10.8"/>
<circle cx="937.3" cy="587.8" r="10.8"/>
<circle cx="950.0" cy="542.0" r="10.8"/>
<circle cx="962.2" cy="499.5" r="10.8"/>
<circle cx="975.6" cy="462.6" r="10.8"/>
<circle cx="988.1" cy="424.0" r="10.8"/>
<circle cx="1001.6" cy="389.1" r="10.8"/>
<circle cx="1014.1" cy="358.5" r="10.8"/>
<circle cx="1026.5" cy="326.8" r="10.8"/>
<circle cx="1039.0" cy="312.2" r="10.8"/>
<circle cx="1052.5" cy="320.0" r="10.8"/>
<circle cx="1065.9" cy="320.0" r="10.8"/>
<circle cx="1079.3" cy="325.5" r="10.8"/>
<circle cx="1089.9" cy="350.8" r="10.8"/>
<circle cx="1102.2" cy="377.7" r="10.8"/>
<circle cx="1114.6" cy="425.1" r="10.8"/>
<circle cx="1127.0" cy="475.8" r="10.8"/>
<circle cx="1139.3" cy="533.1" r="10.8"/>
<circle cx="1150.7" cy="579.8" r="10.8"/>
<circle cx="1162.1" cy="643.3" r="10.8"/>
<circle cx="1174.4" cy="713.8" r="10.8"/>
<circle cx="1185.4" cy="771.1" r="10.8"/>
<circle cx="1197.8" cy="828.3" r="10.8"/>
<circle cx="1210.1" cy="891.2" r="10.8"/>
<circle cx="1221.5" cy="925.4" r="10.8"/>
<circle cx="1233.8" cy="972.5" r="10.8"/>
<circle cx="1245.2" cy="1019.0" r="10.8"/>
<circle cx="1256.6" cy="1052.3" r="10.8"/>
<circle cx="1269.7" cy="1084.9" r="10.8"/>
<circle cx="1280.1" cy="1102.5" r="10.8"/>
<circle cx="1292.5" cy="1118.3" r="10.8"/>
<circle cx="1305.2" cy="1135.5" r="10.8"/>
<circle cx="1316.8" cy="1149.5" r="10.8"/>
<circle cx="1329.5" cy="1158.7" r="10.8"/>
<circle cx="1342.2" cy="1163.3" r="10.8"/>
<circle cx="1353.8" cy="1166.8" r="10.8"/>
<circle cx="1366.5" cy="1169.1" r="10.8"/>
<circle cx="1379.1" cy="1171.4" r="10.8"/>
<circle cx="1390.8" cy="1171.4" r="10.8"/>
<circle cx="1403.5" cy="1172.5" r="10.8"/>
<circle cx="1415.6" cy="1174.9" r="10.8"/>
<circle cx="1430.0" cy="1176.0" r="10.8"/>
</g></g>
<g id="s-steel">
<polyline points="326.4,1144.0 337.6,1146.3 350.3,1145.1 363.0,1143.9 375.7,1143.8 387.4,1142.6 400.0,1144.9 412.7,1146.0 425.4,1143.7 438.1,1144.8 450.8,1140.1 463.5,1141.2 475.7,1140.8 488.1,1139.7 500.4,1137.8 512.6,1135.3 524.8,1132.0 537.0,1128.0 549.3,1123.3 561.6,1117.9 574.3,1104.1 586.2,1092.2 599.2,1086.6 611.2,1068.2 623.8,1055.7 636.0,1042.3 648.5,1024.2 660.9,998.2 673.3,985.8 685.8,960.9 698.2,934.8 711.6,913.6 724.1,889.8 736.5,871.7 749.0,849.1 761.4,823.1 773.8,800.5 786.2,780.2 797.7,762.9 811.6,745.1 824.1,731.4 837.6,706.8 849.9,687.0 862.6,668.3 875.3,650.4 888.0,632.7 900.6,614.2 913.5,593.7 925.9,571.1 937.4,559.5 950.8,530.3 963.3,514.5 975.7,508.8 989.2,482.9 1001.7,462.5 1015.1,463.6 1027.6,445.5 1040.2,424.0 1054.6,435.2 1067.1,453.3 1079.5,469.1 1091.9,489.3 1103.3,549.5 1115.7,591.1 1128.1,627.2 1140.5,680.1 1152.9,726.2 1163.9,775.5 1176.3,828.2 1188.7,874.3 1200.1,919.9 1212.4,969.3 1224.8,1004.1 1236.1,1037.1 1247.5,1071.6 1260.0,1092.0 1271.7,1117.2 1284.4,1134.4 1297.1,1147.1 1309.8,1156.4 1322.5,1163.3 1335.2,1170.2 1347.9,1176.0 1359.6,1178.3 1372.2,1180.6 1384.9,1181.8 1396.6,1182.9 1409.3,1182.9 1422.0,1184.1 1434.6,1186.4" fill="none" stroke="#0068a8" stroke-width="6.3" stroke-linejoin="round" stroke-linecap="round"/>
<g fill="url(#g-steel)">
<circle cx="326.4" cy="1144.0" r="10.8"/>
<circle cx="337.6" cy="1146.3" r="10.8"/>
<circle cx="350.3" cy="1145.1" r="10.8"/>
<circle cx="363.0" cy="1143.9" r="10.8"/>
<circle cx="375.7" cy="1143.8" r="10.8"/>
<circle cx="387.4" cy="1142.6" r="10.8"/>
<circle cx="400.0" cy="1144.9" r="10.8"/>
<circle cx="412.7" cy="1146.0" r="10.8"/>
<circle cx="425.4" cy="1143.7" r="10.8"/>
<circle cx="438.1" cy="1144.8" r="10.8"/>
<circle cx="450.8" cy="1140.1" r="10.8"/>
<circle cx="463.5" cy="1141.2" r="10.8"/>
<circle cx="475.7" cy="1140.8" r="10.8"/>
<circle cx="488.1" cy="1139.7" r="10.8"/>
<circle cx="500.4" cy="1137.8" r="10.8"/>
<circle cx="512.6" cy="1135.3" r="10.8"/>
<circle cx="524.8" cy="1132.0" r="10.8"/>
<circle cx="537.0" cy="1128.0" r="10.8"/>
<circle cx="549.3" cy="1123.3" r="10.8"/>
<circle cx="561.6" cy="1117.9" r="10.8"/>
<circle cx="574.3" cy="1104.1" r="10.8"/>
<circle cx="586.2" cy="1092.2" r="10.8"/>
<circle cx="599.2" cy="1086.6" r="10.8"/>
<circle cx="611.2" cy="1068.2" r="10.8"/>
<circle cx="623.8" cy="1055.7" r="10.8"/>
<circle cx="636.0" cy="1042.3" r="10.8"/>
<circle cx="648.5" cy="1024.2" r="10.8"/>
<circle cx="660.9" cy="998.2" r="10.8"/>
<circle cx="673.3" cy="985.8" r="10.8"/>
<circle cx="685.8" cy="960.9" r="10.8"/>
<circle cx="698.2" cy="934.8" r="10.8"/>
<circle cx="711.6" cy="913.6" r="10.8"/>
<circle cx="724.1" cy="889.8" r="10.8"/>
<circle cx="736.5" cy="871.7" r="10.8"/>
<circle cx="749.0" cy="849.1" r="10.8"/>
<circle cx="761.4" cy="823.1" r="10.8"/>
<circle cx="773.8" cy="800.5" r="10.8"/>
<circle cx="786.2" cy="780.2" r="10.8"/>
<circle cx="797.7" cy="762.9" r="10.8"/>
<circle cx="811.6" cy="745.1" r="10.8"/>
<circle cx="824.1" cy="731.4" r="10.8"/>
<circle cx="837.6" cy="706.8" r="10.8"/>
<circle cx="849.9" cy="687.0" r="10.8"/>
<circle cx="862.6" cy="668.3" r="10.8"/>
<circle cx="875.3" cy="650.4" r="10.8"/>
<circle cx="888.0" cy="632.7" r="10.8"/>
<circle cx="900.6" cy="614.2" r="10.8"/>
<circle cx="913.5" cy="593.7" r="10.8"/>
<circle cx="925.9" cy="571.1" r="10.8"/>
<circle cx="937.4" cy="559.5" r="10.8"/>
<circle cx="950.8" cy="530.3" r="10.8"/>
<circle cx="963.3" cy="514.5" r="10.8"/>
<circle cx="975.7" cy="508.8" r="10.8"/>
<circle cx="989.2" cy="482.9" r="10.8"/>
<circle cx="1001.7" cy="462.5" r="10.8"/>
<circle cx="1015.1" cy="463.6" r="10.8"/>
<circle cx="1027.6" cy="445.5" r="10.8"/>
<circle cx="1040.2" cy="424.0" r="10.8"/>
<circle cx="1054.6" cy="435.2" r="10.8"/>
<circle cx="1067.1" cy="453.3" r="10.8"/>
<circle cx="1079.5" cy="469.1" r="10.8"/>
<circle cx="1091.9" cy="489.3" r="10.8"/>
<circle cx="1103.3" cy="549.5" r="10.8"/>
<circle cx="1115.7" cy="591.1" r="10.8"/>
<circle cx="1128.1" cy="627.2" r="10.8"/>
<circle cx="1140.5" cy="680.1" r="10.8"/>
<circle cx="1152.9" cy="726.2" r="10.8"/>
<circle cx="1163.9" cy="775.5" r="10.8"/>
<circle cx="1176.3" cy="828.2" r="10.8"/>
<circle cx="1188.7" cy="874.3" r="10.8"/>
<circle cx="1200.1" cy="919.9" r="10.8"/>
<circle cx="1212.4" cy="969.3" r="10.8"/>
<circle cx="1224.8" cy="1004.1" r="10.8"/>
<circle cx="1236.1" cy="1037.1" r="10.8"/>
<circle cx="1247.5" cy="1071.6" r="10.8"/>
<circle cx="1260.0" cy="1092.0" r="10.8"/>
<circle cx="1271.7" cy="1117.2" r="10.8"/>
<circle cx="1284.4" cy="1134.4" r="10.8"/>
<circle cx="1297.1" cy="1147.1" r="10.8"/>
<circle cx="1309.8" cy="1156.4" r="10.8"/>
<circle cx="1322.5" cy="1163.3" r="10.8"/>
<circle cx="1335.2" cy="1170.2" r="10.8"/>
<circle cx="1347.9" cy="1176.0" r="10.8"/>
<circle cx="1359.6" cy="1178.3" r="10.8"/>
<circle cx="1372.2" cy="1180.6" r="10.8"/>
<circle cx="1384.9" cy="1181.8" r="10.8"/>
<circle cx="1396.6" cy="1182.9" r="10.8"/>
<circle cx="1409.3" cy="1182.9" r="10.8"/>
<circle cx="1422.0" cy="1184.1" r="10.8"/>
<circle cx="1434.6" cy="1186.4" r="10.8"/>
</g></g>
<g id="s-olive">
<polyline points="321.0,1159.0 331.9,1162.4 344.5,1160.1 357.2,1158.9 370.0,1161.2 382.7,1160.0 395.4,1157.6 408.0,1159.9 419.7,1156.4 432.4,1155.2 445.1,1152.8 457.8,1152.8 470.3,1151.5 483.0,1147.7 495.7,1141.7 508.5,1134.0 521.2,1124.9 533.9,1114.8 546.4,1104.1 559.2,1092.9 571.3,1078.0 583.8,1059.7 596.5,1042.4 609.0,1008.4 622.4,986.0 634.9,957.7 647.3,927.2 659.7,888.8 672.2,863.9 684.6,835.6 697.0,806.2 709.5,781.3 722.7,750.9 735.9,720.6 747.4,695.3 759.8,681.8 773.2,662.7 785.7,650.2 798.2,645.7 811.2,633.2 824.1,629.8 836.6,617.4 849.5,608.7 862.3,602.0 875.0,599.3 888.4,613.9 900.1,609.4 913.5,620.7 926.0,612.8 938.4,609.4 950.9,593.5 963.9,583.4 976.8,591.2 989.7,587.8 1002.7,570.9 1015.3,552.8 1028.8,553.9 1042.3,558.4 1055.7,575.2 1068.2,605.7 1080.6,630.6 1093.1,663.3 1105.5,685.8 1117.2,750.3 1129.5,789.9 1141.9,815.8 1154.3,860.8 1166.2,908.4 1178.1,934.5 1190.9,978.2 1203.3,1013.1 1214.7,1039.4 1226.3,1074.5 1238.9,1090.4 1250.9,1116.1 1263.6,1137.9 1276.3,1150.6 1289.0,1161.0 1301.7,1167.9 1314.4,1176.0 1327.1,1182.9 1339.8,1186.4 1352.5,1188.7 1364.2,1191.0 1376.9,1192.2 1389.6,1193.4 1402.3,1194.5 1415.0,1195.7 1427.7,1195.7 1440.4,1198.0" fill="none" stroke="#a0a000" stroke-width="6.5" stroke-linejoin="round" stroke-linecap="round"/>
<g fill="url(#g-olive)">
<circle cx="321.0" cy="1159.0" r="10.9"/>
<circle cx="331.9" cy="1162.4" r="10.9"/>
<circle cx="344.5" cy="1160.1" r="10.9"/>
<circle cx="357.2" cy="1158.9" r="10.9"/>
<circle cx="370.0" cy="1161.2" r="10.9"/>
<circle cx="382.7" cy="1160.0" r="10.9"/>
<circle cx="395.4" cy="1157.6" r="10.9"/>
<circle cx="408.0" cy="1159.9" r="10.9"/>
<circle cx="419.7" cy="1156.4" r="10.9"/>
<circle cx="432.4" cy="1155.2" r="10.9"/>
<circle cx="445.1" cy="1152.8" r="10.9"/>
<circle cx="457.8" cy="1152.8" r="10.9"/>
<circle cx="470.3" cy="1151.5" r="10.9"/>
<circle cx="483.0" cy="1147.7" r="10.9"/>
<circle cx="495.7" cy="1141.7" r="10.9"/>
<circle cx="508.5" cy="1134.0" r="10.9"/>
<circle cx="521.2" cy="1124.9" r="10.9"/>
<circle cx="533.9" cy="1114.8" r="10.9"/>
<circle cx="546.4" cy="1104.1" r="10.9"/>
<circle cx="559.2" cy="1092.9" r="10.9"/>
<circle cx="571.3" cy="1078.0" r="10.9"/>
<circle cx="583.8" cy="1059.7" r="10.9"/>
<circle cx="596.5" cy="1042.4" r="10.9"/>
<circle cx="609.0" cy="1008.4" r="10.9"/>
<circle cx="622.4" cy="986.0" r="10.9"/>
<circle cx="634.9" cy="957.7" r="10.9"/>
<circle cx="647.3" cy="927.2" r="10.9"/>
<circle cx="659.7" cy="888.8" r="10.9"/>
<circle cx="672.2" cy="863.9" r="10.9"/>
<circle cx="684.6" cy="835.6" r="10.9"/>
<circle cx="697.0" cy="806.2" r="10.9"/>
<circle cx="709.5" cy="781.3" r="10.9"/>
<circle cx="722.7" cy="750.9" r="10.9"/>
<circle cx="735.9" cy="720.6" r="10.9"/>
<circle cx="747.4" cy="695.3" r="10.9"/>
<circle cx="759.8" cy="681.8" r="10.9"/>
<circle cx="773.2" cy="662.7" r="10.9"/>
<circle cx="785.7" cy="650.2" r="10.9"/>
<circle cx="798.2" cy="645.7" r="10.9"/>
<circle cx="811.2" cy="633.2" r="10.9"/>
<circle cx="824.1" cy="629.8" r="10.9"/>
<circle cx="836.6" cy="617.4" r="10.9"/>
<circle cx="849.5" cy="608.7" r="10.9"/>
<circle cx="862.3" cy="602.0" r="10.9"/>
<circle cx="875.0" cy="599.3" r="10.9"/>
<circle cx="888.4" cy="613.9" r="10.9"/>
<circle cx="900.1" cy="609.4" r="10.9"/>
<circle cx="913.5" cy="620.7" r="10.9"/>
<circle cx="926.0" cy="612.8" r="10.9"/>
<circle cx="938.4" cy="609.4" r="10.9"/>
<circle cx="950.9" cy="593.5" r="10.9"/>
<circle cx="963.9" cy="583.4" r="10.9"/>
<circle cx="976.8" cy="591.2" r="10.9"/>
<circle cx="989.7" cy="587.8" r="10.9"/>
<circle cx="1002.7" cy="570.9" r="10.9"/>
<circle cx="1015.3" cy="552.8" r="10.9"/>
<circle cx="1028.8" cy="553.9" r="10.9"/>
<circle cx="1042.3" cy="558.4" r="10.9"/>
<circle cx="1055.7" cy="575.2" r="10.9"/>
<circle cx="1068.2" cy="605.7" r="10.9"/>
<circle cx="1080.6" cy="630.6" r="10.9"/>
<circle cx="1093.1" cy="663.3" r="10.9"/>
<circle cx="1105.5" cy="685.8" r="10.9"/>
<circle cx="1117.2" cy="750.3" r="10.9"/>
<circle cx="1129.5" cy="789.9" r="10.9"/>
<circle cx="1141.9" cy="815.8" r="10.9"/>
<circle cx="1154.3" cy="860.8" r="10.9"/>
<circle cx="1166.2" cy="908.4" r="10.9"/>
<circle cx="1178.1" cy="934.5" r="10.9"/>
<circle cx="1190.9" cy="978.2" r="10.9"/>
<circle cx="1203.3" cy="1013.1" r="10.9"/>
<circle cx="1214.7" cy="1039.4" r="10.9"/>
<circle cx="1226.3" cy="1074.5" r="10.9"/>
<circle cx="1238.9" cy="1090.4" r="10.9"/>
<circle cx="1250.9" cy="1116.1" r="10.9"/>
<circle cx="1263.6" cy="1137.9" r="10.9"/>
<circle cx="1276.3" cy="1150.6" r="10.9"/>
<circle cx="1289.0" cy="1161.0" r="10.9"/>
<circle cx="1301.7" cy="1167.9" r="10.9"/>
<circle cx="1314.4" cy="1176.0" r="10.9"/>
<circle cx="1327.1" cy="1182.9" r="10.9"/>
<circle cx="1339.8" cy="1186.4" r="10.9"/>
<circle cx="1352.5" cy="1188.7" r="10.9"/>
<circle cx="1364.2" cy="1191.0" r="10.9"/>
<circle cx="1376.9" cy="1192.2" r="10.9"/>
<circle cx="1389.6" cy="1193.4" r="10.9"/>
<circle cx="1402.3" cy="1194.5" r="10.9"/>
<circle cx="1415.0" cy="1195.7" r="10.9"/>
<circle cx="1427.7" cy="1195.7" r="10.9"/>
<circle cx="1440.4" cy="1198.0" r="10.9"/>
</g></g>
<g id="s-darkred">
<polyline points="315.3,1178.5 326.3,1179.8 338.8,1178.6 351.5,1179.7 364.2,1177.4 376.9,1177.3 389.6,1176.1 402.3,1173.8 415.0,1172.6 427.8,1169.1 440.5,1165.6 453.2,1163.2 466.0,1158.8 478.9,1152.2 491.9,1143.5 504.8,1133.0 517.4,1120.8 530.1,1107.0 542.4,1092.0 555.8,1065.1 568.2,1032.3 580.7,1007.4 593.1,970.1 605.6,930.4 618.1,896.4 631.5,850.3 645.0,800.8 657.8,746.9 671.6,696.8 684.1,679.7 696.5,637.8 710.0,601.9 723.0,574.7 734.2,549.2 745.3,537.2 758.7,530.5 773.2,529.4 785.7,541.8 799.2,531.6 811.7,547.3 823.1,569.1 836.7,591.0 849.6,611.1 862.6,630.0 875.5,646.8 888.3,660.7 901.1,671.5 913.6,678.3 926.7,683.9 939.5,687.3 952.6,687.3 965.5,699.6 977.9,716.6 990.4,700.8 1003.9,707.5 1016.4,703.0 1029.9,705.2 1043.3,701.8 1055.8,719.8 1068.1,745.9 1080.5,764.1 1093.9,792.1 1106.4,830.6 1118.8,864.5 1132.2,898.1 1144.2,932.2 1157.6,961.2 1169.0,991.9 1180.4,1022.7 1193.2,1051.8 1205.2,1077.4 1218.3,1097.2 1231.2,1117.1 1243.9,1137.9 1256.6,1151.8 1269.4,1163.3 1282.1,1176.0 1294.8,1182.9 1307.5,1188.7 1320.2,1193.3 1332.9,1196.8 1345.6,1199.1 1358.3,1202.6 1371.0,1203.8 1382.7,1204.9 1395.4,1206.1 1408.1,1207.2 1420.8,1208.4 1433.5,1208.4 1446.1,1209.5" fill="none" stroke="#a00000" stroke-width="6.5" stroke-linejoin="round" stroke-linecap="round"/>
<g fill="url(#g-darkred)">
<circle cx="315.3" cy="1178.5" r="10.8"/>
<circle cx="326.3" cy="1179.8" r="10.8"/>
<circle cx="338.8" cy="1178.6" r="10.8"/>
<circle cx="351.5" cy="1179.7" r="10.8"/>
<circle cx="364.2" cy="1177.4" r="10.8"/>
<circle cx="376.9" cy="1177.3" r="10.8"/>
<circle cx="389.6" cy="1176.1" r="10.8"/>
<circle cx="402.3" cy="1173.8" r="10.8"/>
<circle cx="415.0" cy="1172.6" r="10.8"/>
<circle cx="427.8" cy="1169.1" r="10.8"/>
<circle cx="440.5" cy="1165.6" r="10.8"/>
<circle cx="453.2" cy="1163.2" r="10.8"/>
<circle cx="466.0" cy="1158.8" r="10.8"/>
<circle cx="478.9" cy="1152.2" r="10.8"/>
<circle cx="491.9" cy="1143.5" r="10.8"/>
<circle cx="504.8" cy="1133.0" r="10.8"/>
<circle cx="517.4" cy="1120.8" r="10.8"/>
<circle cx="530.1" cy="1107.0" r="10.8"/>
<circle cx="542.4" cy="1092.0" r="10.8"/>
<circle cx="555.8" cy="1065.1" r="10.8"/>
<circle cx="568.2" cy="1032.3" r="10.8"/>
<circle cx="580.7" cy="1007.4" r="10.8"/>
<circle cx="593.1" cy="970.1" r="10.8"/>
<circle cx="605.6" cy="930.4" r="10.8"/>
<circle cx="618.1" cy="896.4" r="10.8"/>
<circle cx="631.5" cy="850.3" r="10.8"/>
<circle cx="645.0" cy="800.8" r="10.8"/>
<circle cx="657.8" cy="746.9" r="10.8"/>
<circle cx="671.6" cy="696.8" r="10.8"/>
<circle cx="684.1" cy="679.7" r="10.8"/>
<circle cx="696.5" cy="637.8" r="10.8"/>
<circle cx="710.0" cy="601.9" r="10.8"/>
<circle cx="723.0" cy="574.7" r="10.8"/>
<circle cx="734.2" cy="549.2" r="10.8"/>
<circle cx="745.3" cy="537.2" r="10.8"/>
<circle cx="758.7" cy="530.5" r="10.8"/>
<circle cx="773.2" cy="529.4" r="10.8"/>
<circle cx="785.7" cy="541.8" r="10.8"/>
<circle cx="799.2" cy="531.6" r="10.8"/>
<circle cx="811.7" cy="547.3" r="10.8"/>
<circle cx="823.1" cy="569.1" r="10.8"/>
<circle cx="836.7" cy="591.0" r="10.8"/>
<circle cx="849.6" cy="611.1" r="10.8"/>
<circle cx="862.6" cy="630.0" r="10.8"/>
<circle cx="875.5" cy="646.8" r="10.8"/>
<circle cx="888.3" cy="660.7" r="10.8"/>
<circle cx="901.1" cy="671.5" r="10.8"/>
<circle cx="913.6" cy="678.3" r="10.8"/>
<circle cx="926.7" cy="683.9" r="10.8"/>
<circle cx="939.5" cy="687.3" r="10.8"/>
<circle cx="952.6" cy="687.3" r="10.8"/>
<circle cx="965.5" cy="699.6" r="10.8"/>
<circle cx="977.9" cy="716.6" r="10.8"/>
<circle cx="990.4" cy="700.8" r="10.8"/>
<circle cx="1003.9" cy="707.5" r="10.8"/>
<circle cx="1016.4" cy="703.0" r="10.8"/>
<circle cx="1029.9" cy="705.2" r="10.8"/>
<circle cx="1043.3" cy="701.8" r="10.8"/>
<circle cx="1055.8" cy="719.8" r="10.8"/>
<circle cx="1068.1" cy="745.9" r="10.8"/>
<circle cx="1080.5" cy="764.1" r="10.8"/>
<circle cx="1093.9" cy="792.1" r="10.8"/>
<circle cx="1106.4" cy="830.6" r="10.8"/>
<circle cx="1118.8" cy="864.5" r="10.8"/>
<circle cx="1132.2" cy="898.1" r="10.8"/>
<circle cx="1144.2" cy="932.2" r="10.8"/>
<circle cx="1157.6" cy="961.2" r="10.8"/>
<circle cx="1169.0" cy="991.9" r="10.8"/>
<circle cx="1180.4" cy="1022.7" r="10.8"/>
<circle cx="1193.2" cy="1051.8" r="10.8"/>
<circle cx="1205.2" cy="1077.4" r="10.8"/>
<circle cx="1218.3" cy="1097.2" r="10.8"/>
<circle cx="1231.2" cy="1117.1" r="10.8"/>
<circle cx="1243.9" cy="1137.9" r="10.8"/>
<circle cx="1256.6" cy="1151.8" r="10.8"/>
<circle cx="1269.4" cy="1163.3" r="10.8"/>
<circle cx="1282.1" cy="1176.0" r="10.8"/>
<circle cx="1294.8" cy="1182.9" r="10.8"/>
<circle cx="1307.5" cy="1188.7" r="10.8"/>
<circle cx="1320.2" cy="1193.3" r="10.8"/>
<circle cx="1332.9" cy="1196.8" r="10.8"/>
<circle cx="1345.6" cy="1199.1" r="10.8"/>
<circle cx="1358.3" cy="1202.6" r="10.8"/>
<circle cx="1371.0" cy="1203.8" r="10.8"/>
<circle cx="1382.7" cy="1204.9" r="10.8"/>
<circle cx="1395.4" cy="1206.1" r="10.8"/>
<circle cx="1408.1" cy="1207.2" r="10.8"/>
<circle cx="1420.8" cy="1208.4" r="10.8"/>
<circle cx="1433.5" cy="1208.4" r="10.8"/>
<circle cx="1446.1" cy="1209.5" r="10.8"/>
</g></g>
<g id="s-purple">
<polyline points="308.4,1194.9 319.5,1192.5 331.8,1194.8 344.5,1194.7 357.3,1195.9 370.0,1194.7 383.8,1190.0 396.5,1186.5 409.3,1187.6 422.0,1184.1 434.7,1179.4 447.4,1173.6 460.4,1164.3 473.4,1152.3 486.5,1137.4 499.6,1119.9 512.6,1099.8 525.7,1076.9 538.8,1051.4 551.7,1023.7 564.8,992.9 577.3,946.5 589.8,897.7 603.2,849.5 614.8,801.0 629.5,738.9 642.7,671.0 655.8,624.6 669.3,572.9 681.4,524.5 694.2,478.7 707.2,438.2 719.1,416.5 731.6,404.1 745.1,402.9 758.6,407.4 772.1,422.0 784.9,444.5 797.0,479.7 808.5,500.4 822.3,532.6 835.2,567.8 848.2,606.6 861.3,646.1 874.3,683.4 887.3,716.8 899.8,742.9 913.3,763.1 926.8,776.6 941.3,782.1 952.8,799.2 966.3,803.6 978.7,813.8 991.2,818.3 1003.7,810.3 1017.2,799.1 1030.6,808.1 1043.1,806.9 1055.6,826.2 1069.1,843.1 1082.6,866.6 1095.1,900.6 1107.6,915.4 1121.0,953.5 1133.5,976.2 1145.9,1010.1 1159.3,1033.6 1171.2,1060.8 1183.3,1086.1 1197.1,1102.1 1209.8,1121.7 1222.5,1139.1 1235.2,1155.2 1247.7,1168.0 1260.4,1177.2 1273.1,1186.4 1285.8,1193.4 1298.5,1200.3 1311.0,1201.4 1323.7,1207.2 1336.4,1209.5 1349.1,1213.0 1361.9,1215.3 1374.6,1215.3 1387.3,1216.5 1400.0,1217.6 1412.7,1218.8 1425.5,1219.9 1438.2,1219.9 1453.1,1220.0" fill="none" stroke="#a00090" stroke-width="6.5" stroke-linejoin="round" stroke-linecap="round"/>
<g fill="url(#g-purple)">
<circle cx="308.4" cy="1194.9" r="10.8"/>
<circle cx="319.5" cy="1192.5" r="10.8"/>
<circle cx="331.8" cy="1194.8" r="10.8"/>
<circle cx="344.5" cy="1194.7" r="10.8"/>
<circle cx="357.3" cy="1195.9" r="10.8"/>
<circle cx="370.0" cy="1194.7" r="10.8"/>
<circle cx="383.8" cy="1190.0" r="10.8"/>
<circle cx="396.5" cy="1186.5" r="10.8"/>
<circle cx="409.3" cy="1187.6" r="10.8"/>
<circle cx="422.0" cy="1184.1" r="10.8"/>
<circle cx="434.7" cy="1179.4" r="10.8"/>
<circle cx="447.4" cy="1173.6" r="10.8"/>
<circle cx="460.4" cy="1164.3" r="10.8"/>
<circle cx="473.4" cy="1152.3" r="10.8"/>
<circle cx="486.5" cy="1137.4" r="10.8"/>
<circle cx="499.6" cy="1119.9" r="10.8"/>
<circle cx="512.6" cy="1099.8" r="10.8"/>
<circle cx="525.7" cy="1076.9" r="10.8"/>
<circle cx="538.8" cy="1051.4" r="10.8"/>
<circle cx="551.7" cy="1023.7" r="10.8"/>
<circle cx="564.8" cy="992.9" r="10.8"/>
<circle cx="577.3" cy="946.5" r="10.8"/>
<circle cx="589.8" cy="897.7" r="10.8"/>
<circle cx="603.2" cy="849.5" r="10.8"/>
<circle cx="614.8" cy="801.0" r="10.8"/>
<circle cx="629.5" cy="738.9" r="10.8"/>
<circle cx="642.7" cy="671.0" r="10.8"/>
<circle cx="655.8" cy="624.6" r="10.8"/>
<circle cx="669.3" cy="572.9" r="10.8"/>
<circle cx="681.4" cy="524.5" r="10.8"/>
<circle cx="694.2" cy="478.7" r="10.8"/>
<circle cx="707.2" cy="438.2" r="10.8"/>
<circle cx="719.1" cy="416.5" r="10.8"/>
<circle cx="731.6" cy="404.1" r="10.8"/>
<circle cx="745.1" cy="402.9" r="10.8"/>
<circle cx="758.6" cy="407.4" r="10.8"/>
<circle cx="772.1" cy="422.0" r="10.8"/>
<circle cx="784.9" cy="444.5" r="10.8"/>
<circle cx="797.0" cy="479.7" r="10.8"/>
<circle cx="808.5" cy="500.4" r="10.8"/>
<circle cx="822.3" cy="532.6" r="10.8"/>
<circle cx="835.2" cy="567.8" r="10.8"/>
<circle cx="848.2" cy="606.6" r="10.8"/>
<circle cx="861.3" cy="646.1" r="10.8"/>
<circle cx="874.3" cy="683.4" r="10.8"/>
<circle cx="887.3" cy="716.8" r="10.8"/>
<circle cx="899.8" cy="742.9" r="10.8"/>
<circle cx="913.3" cy="763.1" r="10.8"/>
<circle cx="926.8" cy="776.6" r="10.8"/>
<circle cx="941.3" cy="782.1" r="10.8"/>
<circle cx="952.8" cy="799.2" r="10.8"/>
<circle cx="966.3" cy="803.6" r="10.8"/>
<circle cx="978.7" cy="813.8" r="10.8"/>
<circle cx="991.2" cy="818.3" r="10.8"/>
<circle cx="1003.7" cy="810.3" r="10.8"/>
<circle cx="1017.2" cy="799.1" r="10.8"/>
<circle cx="1030.6" cy="808.1" r="10.8"/>
<circle cx="1043.1" cy="806.9" r="10.8"/>
<circle cx="1055.6" cy="826.2" r="10.8"/>
<circle cx="1069.1" cy="843.1" r="10.8"/>
<circle cx="1082.6" cy="866.6" r="10.8"/>
<circle cx="1095.1" cy="900.6" r="10.8"/>
<circle cx="1107.6" cy="915.4" r="10.8"/>
<circle cx="1121.0" cy="953.5" r="10.8"/>
<circle cx="1133.5" cy="976.2" r="10.8"/>
<circle cx="1145.9" cy="1010.1" r="10.8"/>
<circle cx="1159.3" cy="1033.6" r="10.8"/>
<circle cx="1171.2" cy="1060.8" r="10.8"/>
<circle cx="1183.3" cy="1086.1" r="10.8"/>
<circle cx="1197.1" cy="1102.1" r="10.8"/>
<circle cx="1209.8" cy="1121.7" r="10.8"/>
<circle cx="1222.5" cy="1139.1" r="10.8"/>
<circle cx="1235.2" cy="1155.2" r="10.8"/>
<circle cx="1247.7" cy="1168.0" r="10.8"/>
<circle cx="1260.4" cy="1177.2" r="10.8"/>
<circle cx="1273.1" cy="1186.4" r="10.8"/>
<circle cx="1285.8" cy="1193.4" r="10.8"/>
<circle cx="1298.5" cy="1200.3" r="10.8"/>
<circle cx="1311.0" cy="1201.4" r="10.8"/>
<circle cx="1323.7" cy="1207.2" r="10.8"/>
<circle cx="1336.4" cy="1209.5" r="10.8"/>
<circle cx="1349.1" cy="1213.0" r="10.8"/>
<circle cx="1361.9" cy="1215.3" r="10.8"/>
<circle cx="1374.6" cy="1215.3" r="10.8"/>
<circle cx="1387.3" cy="1216.5" r="10.8"/>
<circle cx="1400.0" cy="1217.6" r="10.8"/>
<circle cx="1412.7" cy="1218.8" r="10.8"/>
<circle cx="1425.5" cy="1219.9" r="10.8"/>
<circle cx="1438.2" cy="1219.9" r="10.8"/>
<circle cx="1453.1" cy="1220.0" r="10.8"/>
</g></g>
<g id="s-violet">
<polyline points="302.6,1211.0 313.8,1211.0 326.0,1211.0 338.8,1209.8 351.5,1209.7 365.3,1208.5 378.0,1208.5 390.8,1203.8 403.5,1198.0 416.2,1196.8 429.0,1191.0 441.7,1185.2 455.2,1176.9 468.6,1167.6 482.3,1156.4 496.1,1143.0 509.3,1127.2 522.3,1108.7 535.2,1086.7 548.2,1057.0 561.2,1001.3 574.8,952.4 589.2,880.6 603.6,814.5 617.2,749.9 631.9,671.0 643.8,589.2 655.2,534.7 669.2,457.3 680.6,390.9 692.1,347.4 703.5,325.8 716.0,307.6 731.4,277.5 744.9,288.7 757.5,318.2 771.0,358.7 782.5,372.6 796.5,400.7 809.6,437.3 822.9,482.4 836.3,533.2 849.4,586.3 862.4,639.9 875.7,692.8 889.2,742.9 902.8,786.0 915.9,818.9 930.0,841.8 941.5,851.1 953.9,863.5 966.4,860.1 978.8,877.1 992.3,879.3 1005.8,875.9 1018.3,884.9 1031.8,881.5 1044.3,900.7 1057.8,901.8 1071.3,918.6 1083.8,940.1 1096.3,971.9 1109.7,999.8 1122.2,1028.2 1134.7,1050.0 1147.8,1072.7 1160.9,1094.4 1172.9,1113.9 1186.7,1132.2 1199.4,1149.5 1212.1,1163.4 1224.9,1176.1 1237.6,1185.4 1251.1,1195.7 1263.9,1202.6 1276.6,1207.3 1290.4,1211.8 1302.9,1215.3 1315.6,1218.8 1328.3,1222.3 1341.1,1224.6 1353.8,1225.7 1366.6,1226.9 1380.3,1228.0 1393.1,1229.2 1405.8,1229.2 1418.5,1230.3 1431.3,1229.2 1444.8,1230.3 1460.0,1230.3" fill="none" stroke="#8000ff" stroke-width="6.7" stroke-linejoin="round" stroke-linecap="round"/>
<g fill="url(#g-violet)">
<circle cx="302.6" cy="1211.0" r="10.8"/>
<circle cx="313.8" cy="1211.0" r="10.8"/>
<circle cx="326.0" cy="1211.0" r="10.8"/>
<circle cx="338.8" cy="1209.8" r="10.8"/>
<circle cx="351.5" cy="1209.7" r="10.8"/>
<circle cx="365.3" cy="1208.5" r="10.8"/>
<circle cx="378.0" cy="1208.5" r="10.8"/>
<circle cx="390.8" cy="1203.8" r="10.8"/>
<circle cx="403.5" cy="1198.0" r="10.8"/>
<circle cx="416.2" cy="1196.8" r="10.8"/>
<circle cx="429.0" cy="1191.0" r="10.8"/>
<circle cx="441.7" cy="1185.2" r="10.8"/>
<circle cx="455.2" cy="1176.9" r="10.8"/>
<circle cx="468.6" cy="1167.6" r="10.8"/>
<circle cx="482.3" cy="1156.4" r="10.8"/>
<circle cx="496.1" cy="1143.0" r="10.8"/>
<circle cx="509.3" cy="1127.2" r="10.8"/>
<circle cx="522.3" cy="1108.7" r="10.8"/>
<circle cx="535.2" cy="1086.7" r="10.8"/>
<circle cx="548.2" cy="1057.0" r="10.8"/>
<circle cx="561.2" cy="1001.3" r="10.8"/>
<circle cx="574.8" cy="952.4" r="10.8"/>
<circle cx="589.2" cy="880.6" r="10.8"/>
<circle cx="603.6" cy="814.5" r="10.8"/>
<circle cx="617.2" cy="749.9" r="10.8"/>
<circle cx="631.9" cy="671.0" r="10.8"/>
<circle cx="643.8" cy="589.2" r="10.8"/>
<circle cx="655.2" cy="534.7" r="10.8"/>
<circle cx="669.2" cy="457.3" r="10.8"/>
<circle cx="680.6" cy="390.9" r="10.8"/>
<circle cx="692.1" cy="347.4" r="10.8"/>
<circle cx="703.5" cy="325.8" r="10.8"/>
<circle cx="716.0" cy="307.6" r="10.8"/>
<circle cx="731.4" cy="277.5" r="10.8"/>
<circle cx="744.9" cy="288.7" r="10.8"/>
<circle cx="757.5" cy="318.2" r="10.8"/>
<circle cx="771.0" cy="358.7" r="10.8"/>
<circle cx="782.5" cy="372.6" r="10.8"/>
<circle cx="796.5" cy="400.7" r="10.8"/>
<circle cx="809.6" cy="437.3" r="10.8"/>
<circle cx="822.9" cy="482.4" r="10.8"/>
<circle cx="836.3" cy="533.2" r="10.8"/>
<circle cx="849.4" cy="586.3" r="10.8"/>
<circle cx="862.4" cy="639.9" r="10.8"/>
<circle cx="875.7" cy="692.8" r="10.8"/>
<circle cx="889.2" cy="742.9" r="10.8"/>
<circle cx="902.8" cy="786.0" r="10.8"/>
<circle cx="915.9" cy="818.9" r="10.8"/>
<circle cx="930.0" cy="841.8" r="10.8"/>
<circle cx="941.5" cy="851.1" r="10.8"/>
<circle cx="953.9" cy="863.5" r="10.8"/>
<circle cx="966.4" cy="860.1" r="10.8"/>
<circle cx="978.8" cy="877.1" r="10.8"/>
<circle cx="992.3" cy="879.3" r="10.8"/>
<circle cx="1005.8" cy="875.9" r="10.8"/>
<circle cx="1018.3" cy="884.9" r="10.8"/>
<circle cx="1031.8" cy="881.5" r="10.8"/>
<circle cx="1044.3" cy="900.7" r="10.8"/>
<circle cx="1057.8" cy="901.8" r="10.8"/>
<circle cx="1071.3" cy="918.6" r="10.8"/>
<circle cx="1083.8" cy="940.1" r="10.8"/>
<circle cx="1096.3" cy="971.9" r="10.8"/>
<circle cx="1109.7" cy="999.8" r="10.8"/>
<circle cx="1122.2" cy="1028.2" r="10.8"/>
<circle cx="1134.7" cy="1050.0" r="10.8"/>
<circle cx="1147.8" cy="1072.7" r="10.8"/>
<circle cx="1160.9" cy="1094.4" r="10.8"/>
<circle cx="1172.9" cy="1113.9" r="10.8"/>
<circle cx="1186.7" cy="1132.2" r="10.8"/>
<circle cx="1199.4" cy="1149.5" r="10.8"/>
<circle cx="1212.1" cy="1163.4" r="10.8"/>
<circle cx="1224.9" cy="1176.1" r="10.8"/>
<circle cx="1237.6" cy="1185.4" r="10.8"/>
<circle cx="1251.1" cy="1195.7" r="10.8"/>
<circle cx="1263.9" cy="1202.6" r="10.8"/>
<circle cx="1276.6" cy="1207.3" r="10.8"/>
<circle cx="1290.4" cy="1211.8" r="10.8"/>
<circle cx="1302.9" cy="1215.3" r="10.8"/>
<circle cx="1315.6" cy="1218.8" r="10.8"/>
<circle cx="1328.3" cy="1222.3" r="10.8"/>
<circle cx="1341.1" cy="1224.6" r="10.8"/>
<circle cx="1353.8" cy="1225.7" r="10.8"/>
<circle cx="1366.6" cy="1226.9" r="10.8"/>
<circle cx="1380.3" cy="1228.0" r="10.8"/>
<circle cx="1393.1" cy="1229.2" r="10.8"/>
<circle cx="1405.8" cy="1229.2" r="10.8"/>
<circle cx="1418.5" cy="1230.3" r="10.8"/>
<circle cx="1431.3" cy="1229.2" r="10.8"/>
<circle cx="1444.8" cy="1230.3" r="10.8"/>
<circle cx="1460.0" cy="1230.3" r="10.8"/>
</g></g>
<g id="s-navy">
<polyline points="295.6,1224.9 307.0,1228.3 319.2,1227.1 332.9,1223.6 345.7,1224.8 359.5,1223.6 372.3,1222.4 385.0,1217.7 397.8,1214.2 411.5,1210.7 424.3,1204.9 437.7,1196.9 451.0,1188.4 464.6,1178.6 478.1,1167.1 491.4,1153.8 504.5,1138.2 517.5,1119.7 530.6,1097.9 543.6,1068.9 556.8,1010.1 570.4,951.2 584.8,878.7 599.0,805.2 612.0,736.5 623.7,676.9 635.1,609.4 647.4,541.7 661.1,474.0 675.8,376.4 691.6,297.0 703.6,268.0 715.2,242.5 727.1,226.5 739.6,208.6 754.0,224.2 765.5,255.4 778.0,321.3 792.4,384.8 806.1,441.8 820.3,498.3 834.7,552.6 849.0,603.8 863.7,654.5 878.3,702.9 892.0,747.0 905.9,790.6 917.1,823.2 928.4,851.0 940.4,877.1 953.8,892.8 966.3,896.3 979.8,906.4 992.4,914.3 1005.9,921.1 1019.4,927.8 1032.9,933.4 1045.4,944.7 1057.9,957.2 1071.3,971.8 1083.9,988.8 1097.3,1013.5 1110.1,1051.2 1123.3,1066.6 1136.9,1096.7 1149.7,1121.8 1162.4,1140.3 1175.2,1155.4 1187.9,1169.3 1201.7,1181.9 1214.5,1196.9 1227.2,1201.6 1241.0,1207.3 1253.8,1210.8 1266.3,1220.0 1280.0,1222.3 1292.8,1226.9 1306.4,1229.2 1319.1,1232.7 1332.9,1235.0 1345.7,1236.1 1358.5,1236.1 1372.2,1238.4 1385.0,1239.6 1397.8,1238.4 1411.6,1240.8 1424.4,1240.8 1438.1,1240.8 1451.6,1241.9 1467.0,1241.9" fill="none" stroke="#000080" stroke-width="7.0" stroke-linejoin="round" stroke-linecap="round"/>
<g fill="url(#g-navy)">
<circle cx="295.6" cy="1224.9" r="10.8"/>
<circle cx="307.0" cy="1228.3" r="10.8"/>
<circle cx="319.2" cy="1227.1" r="10.8"/>
<circle cx="332.9" cy="1223.6" r="10.8"/>
<circle cx="345.7" cy="1224.8" r="10.8"/>
<circle cx="359.5" cy="1223.6" r="10.8"/>
<circle cx="372.3" cy="1222.4" r="10.8"/>
<circle cx="385.0" cy="1217.7" r="10.8"/>
<circle cx="397.8" cy="1214.2" r="10.8"/>
<circle cx="411.5" cy="1210.7" r="10.8"/>
<circle cx="424.3" cy="1204.9" r="10.8"/>
<circle cx="437.7" cy="1196.9" r="10.8"/>
<circle cx="451.0" cy="1188.4" r="10.8"/>
<circle cx="464.6" cy="1178.6" r="10.8"/>
<circle cx="478.1" cy="1167.1" r="10.8"/>
<circle cx="491.4" cy="1153.8" r="10.8"/>
<circle cx="504.5" cy="1138.2" r="10.8"/>
<circle cx="517.5" cy="1119.7" r="10.8"/>
<circle cx="530.6" cy="1097.9" r="10.8"/>
<circle cx="543.6" cy="1068.9" r="10.8"/>
<circle cx="556.8" cy="1010.1" r="10.8"/>
<circle cx="570.4" cy="951.2" r="10.8"/>
<circle cx="584.8" cy="878.7" r="10.8"/>
<circle cx="599.0" cy="805.2" r="10.8"/>
<circle cx="612.0" cy="736.5" r="10.8"/>
<circle cx="623.7" cy="676.9" r="10.8"/>
<circle cx="635.1" cy="609.4" r="10.8"/>
<circle cx="647.4" cy="541.7" r="10.8"/>
<circle cx="661.1" cy="474.0" r="10.8"/>
<circle cx="675.8" cy="376.4" r="10.8"/>
<circle cx="691.6" cy="297.0" r="10.8"/>
<circle cx="703.6" cy="268.0" r="10.8"/>
<circle cx="715.2" cy="242.5" r="10.8"/>
<circle cx="727.1" cy="226.5" r="10.8"/>
<circle cx="739.6" cy="208.6" r="10.8"/>
<circle cx="754.0" cy="224.2" r="10.8"/>
<circle cx="765.5" cy="255.4" r="10.8"/>
<circle cx="778.0" cy="321.3" r="10.8"/>
<circle cx="792.4" cy="384.8" r="10.8"/>
<circle cx="806.1" cy="441.8" r="10.8"/>
<circle cx="820.3" cy="498.3" r="10.8"/>
<circle cx="834.7" cy="552.6" r="10.8"/>
<circle cx="849.0" cy="603.8" r="10.8"/>
<circle cx="863.7" cy="654.5" r="10.8"/>
<circle cx="878.3" cy="702.9" r="10.8"/>
<circle cx="892.0" cy="747.0" r="10.8"/>
<circle cx="905.9" cy="790.6" r="10.8"/>
<circle cx="917.1" cy="823.2" r="10.8"/>
<circle cx="928.4" cy="851.0" r="10.8"/>
<circle cx="940.4" cy="877.1" r="10.8"/>
<circle cx="953.8" cy="892.8" r="10.8"/>
<circle cx="966.3" cy="896.3" r="10.8"/>
<circle cx="979.8" cy="906.4" r="10.8"/>
<circle cx="992.4" cy="914.3" r="10.8"/>
<circle cx="1005.9" cy="921.1" r="10.8"/>
<circle cx="1019.4" cy="927.8" r="10.8"/>
<circle cx="1032.9" cy="933.4" r="10.8"/>
<circle cx="1045.4" cy="944.7" r="10.8"/>
<circle cx="1057.9" cy="957.2" r="10.8"/>
<circle cx="1071.3" cy="971.8" r="10.8"/>
<circle cx="1083.9" cy="988.8" r="10.8"/>
<circle cx="1097.3" cy="1013.5" r="10.8"/>
<circle cx="1110.1" cy="1051.2" r="10.8"/>
<circle cx="1123.3" cy="1066.6" r="10.8"/>
<circle cx="1136.9" cy="1096.7" r="10.8"/>
<circle cx="1149.7" cy="1121.8" r="10.8"/>
<circle cx="1162.4" cy="1140.3" r="10.8"/>
<circle cx="1175.2" cy="1155.4" r="10.8"/>
<circle cx="1187.9" cy="1169.3" r="10.8"/>
<circle cx="1201.7" cy="1181.9" r="10.8"/>
<circle cx="1214.5" cy="1196.9" r="10.8"/>
<circle cx="1227.2" cy="1201.6" r="10.8"/>
<circle cx="1241.0" cy="1207.3" r="10.8"/>
<circle cx="1253.8" cy="1210.8" r="10.8"/>
<circle cx="1266.3" cy="1220.0" r="10.8"/>
<circle cx="1280.0" cy="1222.3" r="10.8"/>
<circle cx="1292.8" cy="1226.9" r="10.8"/>
<circle cx="1306.4" cy="1229.2" r="10.8"/>
<circle cx="1319.1" cy="1232.7" r="10.8"/>
<circle cx="1332.9" cy="1235.0" r="10.8"/>
<circle cx="1345.7" cy="1236.1" r="10.8"/>
<circle cx="1358.5" cy="1236.1" r="10.8"/>
<circle cx="1372.2" cy="1238.4" r="10.8"/>
<circle cx="1385.0" cy="1239.6" r="10.8"/>
<circle cx="1397.8" cy="1238.4" r="10.8"/>
<circle cx="1411.6" cy="1240.8" r="10.8"/>
<circle cx="1424.4" cy="1240.8" r="10.8"/>
<circle cx="1438.1" cy="1240.8" r="10.8"/>
<circle cx="1451.6" cy="1241.9" r="10.8"/>
<circle cx="1467.0" cy="1241.9" r="10.8"/>
</g></g>
<g id="s-green">
<polyline points="289.2,1240.8 300.7,1240.8 313.4,1238.4 327.2,1237.3 339.9,1236.1 353.7,1235.0 366.5,1231.5 380.3,1233.8 393.1,1228.0 405.9,1222.2 419.6,1215.3 432.8,1207.2 446.2,1198.6 459.8,1188.8 473.3,1177.3 486.6,1163.4 499.8,1146.3 513.0,1125.4 526.1,1099.9 539.2,1043.3 552.3,996.5 565.6,929.0 578.5,868.3 592.1,805.0 606.5,729.9 620.9,626.6 633.7,545.5 645.7,470.1 660.1,407.7 672.4,336.4 686.2,266.6 698.9,219.8 712.0,203.9 725.9,187.6 739.9,188.7 754.0,204.4 767.3,223.2 780.9,246.8 794.3,277.3 807.7,325.5 821.1,392.7 834.9,468.7 849.5,548.7 864.1,626.6 878.1,696.3 892.7,759.5 904.6,802.5 918.6,845.5 930.2,872.3 941.5,909.7 954.0,919.6 967.4,929.7 979.9,944.4 992.5,956.9 1007.0,965.9 1020.5,965.9 1034.1,968.1 1047.6,982.8 1061.2,1002.0 1074.7,1019.9 1087.2,1053.8 1100.4,1080.0 1113.5,1099.4 1126.6,1127.5 1140.4,1148.2 1153.2,1170.3 1167.0,1182.9 1179.8,1193.4 1193.6,1204.9 1206.4,1214.2 1220.1,1219.9 1232.9,1222.2 1245.7,1232.7 1258.4,1233.8 1271.9,1239.6 1284.7,1240.8 1298.0,1241.9 1311.0,1246.5 1324.8,1246.5 1337.6,1251.2 1350.4,1248.8 1364.2,1253.5 1377.0,1252.3 1390.8,1250.0 1404.6,1254.6 1417.4,1253.5 1431.3,1252.3 1445.1,1255.8 1458.9,1256.9 1472.7,1258.1" fill="none" stroke="#008000" stroke-width="8.8" stroke-linejoin="round" stroke-linecap="round"/>
<g fill="url(#g-green)">
<circle cx="289.2" cy="1240.8" r="11.6"/>
<circle cx="300.7" cy="1240.8" r="11.6"/>
<circle cx="313.4" cy="1238.4" r="11.6"/>
<circle cx="327.2" cy="1237.3" r="11.6"/>
<circle cx="339.9" cy="1236.1" r="11.6"/>
<circle cx="353.7" cy="1235.0" r="11.6"/>
<circle cx="366.5" cy="1231.5" r="11.6"/>
<circle cx="380.3" cy="1233.8" r="11.6"/>
<circle cx="393.1" cy="1228.0" r="11.6"/>
<circle cx="405.9" cy="1222.2" r="11.6"/>
<circle cx="419.6" cy="1215.3" r="11.6"/>
<circle cx="432.8" cy="1207.2" r="11.6"/>
<circle cx="446.2" cy="1198.6" r="11.6"/>
<circle cx="459.8" cy="1188.8" r="11.6"/>
<circle cx="473.3" cy="1177.3" r="11.6"/>
<circle cx="486.6" cy="1163.4" r="11.6"/>
<circle cx="499.8" cy="1146.3" r="11.6"/>
<circle cx="513.0" cy="1125.4" r="11.6"/>
<circle cx="526.1" cy="1099.9" r="11.6"/>
<circle cx="539.2" cy="1043.3" r="11.6"/>
<circle cx="552.3" cy="996.5" r="11.6"/>
<circle cx="565.6" cy="929.0" r="11.6"/>
<circle cx="578.5" cy="868.3" r="11.6"/>
<circle cx="592.1" cy="805.0" r="11.6"/>
<circle cx="606.5" cy="729.9" r="11.6"/>
<circle cx="620.9" cy="626.6" r="11.6"/>
<circle cx="633.7" cy="545.5" r="11.6"/>
<circle cx="645.7" cy="470.1" r="11.6"/>
<circle cx="660.1" cy="407.7" r="11.6"/>
<circle cx="672.4" cy="336.4" r="11.6"/>
<circle cx="686.2" cy="266.6" r="11.6"/>
<circle cx="698.9" cy="219.8" r="11.6"/>
<circle cx="712.0" cy="203.9" r="11.6"/>
<circle cx="725.9" cy="187.6" r="11.6"/>
<circle cx="739.9" cy="188.7" r="11.6"/>
<circle cx="754.0" cy="204.4" r="11.6"/>
<circle cx="767.3" cy="223.2" r="11.6"/>
<circle cx="780.9" cy="246.8" r="11.6"/>
<circle cx="794.3" cy="277.3" r="11.6"/>
<circle cx="807.7" cy="325.5" r="11.6"/>
<circle cx="821.1" cy="392.7" r="11.6"/>
<circle cx="834.9" cy="468.7" r="11.6"/>
<circle cx="849.5" cy="548.7" r="11.6"/>
<circle cx="864.1" cy="626.6" r="11.6"/>
<circle cx="878.1" cy="696.3" r="11.6"/>
<circle cx="892.7" cy="759.5" r="11.6"/>
<circle cx="904.6" cy="802.5" r="11.6"/>
<circle cx="918.6" cy="845.5" r="11.6"/>
<circle cx="930.2" cy="872.3" r="11.6"/>
<circle cx="941.5" cy="909.7" r="11.6"/>
<circle cx="954.0" cy="919.6" r="11.6"/>
<circle cx="967.4" cy="929.7" r="11.6"/>
<circle cx="979.9" cy="944.4" r="11.6"/>
<circle cx="992.5" cy="956.9" r="11.6"/>
<circle cx="1007.0" cy="965.9" r="11.6"/>
<circle cx="1020.5" cy="965.9" r="11.6"/>
<circle cx="1034.1" cy="968.1" r="11.6"/>
<circle cx="1047.6" cy="982.8" r="11.6"/>
<circle cx="1061.2" cy="1002.0" r="11.6"/>
<circle cx="1074.7" cy="1019.9" r="11.6"/>
<circle cx="1087.2" cy="1053.8" r="11.6"/>
<circle cx="1100.4" cy="1080.0" r="11.6"/>
<circle cx="1113.5" cy="1099.4" r="11.6"/>
<circle cx="1126.6" cy="1127.5" r="11.6"/>
<circle cx="1140.4" cy="1148.2" r="11.6"/>
<circle cx="1153.2" cy="1170.3" r="11.6"/>
<circle cx="1167.0" cy="1182.9" r="11.6"/>
<circle cx="1179.8" cy="1193.4" r="11.6"/>
<circle cx="1193.6" cy="1204.9" r="11.6"/>
<circle cx="1206.4" cy="1214.2" r="11.6"/>
<circle cx="1220.1" cy="1219.9" r="11.6"/>
<circle cx="1232.9" cy="1222.2" r="11.6"/>
<circle cx="1245.7" cy="1232.7" r="11.6"/>
<circle cx="1258.4" cy="1233.8" r="11.6"/>
<circle cx="1271.9" cy="1239.6" r="11.6"/>
<circle cx="1284.7" cy="1240.8" r="11.6"/>
<circle cx="1298.0" cy="1241.9" r="11.6"/>
<circle cx="1311.0" cy="1246.5" r="11.6"/>
<circle cx="1324.8" cy="1246.5" r="11.6"/>
<circle cx="1337.6" cy="1251.2" r="11.6"/>
<circle cx="1350.4" cy="1248.8" r="11.6"/>
<circle cx="1364.2" cy="1253.5" r="11.6"/>
<circle cx="1377.0" cy="1252.3" r="11.6"/>
<circle cx="1390.8" cy="1250.0" r="11.6"/>
<circle cx="1404.6" cy="1254.6" r="11.6"/>
<circle cx="1417.4" cy="1253.5" r="11.6"/>
<circle cx="1431.3" cy="1252.3" r="11.6"/>
<circle cx="1445.1" cy="1255.8" r="11.6"/>
<circle cx="1458.9" cy="1256.9" r="11.6"/>
<circle cx="1472.7" cy="1258.1" r="11.6"/>
</g></g>
<g id="s-magenta">
<polyline points="276.8,1266.0 288.5,1265.0 300.6,1265.0 313.4,1265.0 327.2,1262.7 341.0,1260.4 353.9,1256.9 367.7,1254.6 381.5,1248.8 395.5,1241.2 409.6,1234.0 424.2,1222.2 439.2,1211.0 454.5,1201.8 469.3,1190.1 483.1,1168.7 496.0,1135.8 508.0,1104.5 519.7,1086.3 534.0,1028.4 545.7,968.1 560.4,907.0 575.0,842.9 589.6,766.2 604.8,683.5 616.9,599.1 630.0,485.5 643.0,437.0 656.6,350.4 670.3,272.1 686.1,208.0 700.8,165.0 713.8,135.6 727.8,116.1 742.0,107.9 756.3,126.5 771.0,161.2 784.2,208.1 798.1,269.0 812.3,341.3 824.9,399.0 837.8,487.4 850.3,565.6 863.4,641.7 877.3,716.2 891.2,781.4 904.3,831.9 919.8,874.8 932.8,922.4 944.4,958.2 956.3,979.6 969.8,997.6 983.3,1014.5 996.9,1033.7 1010.7,1052.6 1024.9,1053.7 1038.6,1064.0 1052.3,1082.2 1066.0,1099.8 1078.1,1121.8 1091.9,1142.4 1104.7,1170.3 1118.5,1192.2 1132.3,1204.9 1145.1,1221.2 1159.0,1232.7 1172.8,1241.9 1186.7,1253.5 1200.5,1256.9 1214.4,1258.1 1227.2,1263.9 1241.0,1263.9 1253.8,1269.7 1267.6,1270.8 1281.4,1269.7 1294.0,1269.7 1307.6,1273.1 1321.4,1280.1 1335.3,1277.7 1349.1,1277.7 1361.9,1278.9 1375.8,1278.9 1389.6,1276.6 1403.4,1277.7 1416.3,1277.7 1430.1,1281.2 1444.0,1280.1 1457.8,1281.2 1471.8,1280.1 1487.8,1281.2" fill="none" stroke="#ff00ff" stroke-width="8.9" stroke-linejoin="round" stroke-linecap="round"/>
<g fill="url(#g-magenta)">
<circle cx="276.8" cy="1266.0" r="12.0"/>
<circle cx="288.5" cy="1265.0" r="12.0"/>
<circle cx="300.6" cy="1265.0" r="12.0"/>
<circle cx="313.4" cy="1265.0" r="12.0"/>
<circle cx="327.2" cy="1262.7" r="12.0"/>
<circle cx="341.0" cy="1260.4" r="12.0"/>
<circle cx="353.9" cy="1256.9" r="12.0"/>
<circle cx="367.7" cy="1254.6" r="12.0"/>
<circle cx="381.5" cy="1248.8" r="12.0"/>
<circle cx="395.5" cy="1241.2" r="12.0"/>
<circle cx="409.6" cy="1234.0" r="12.0"/>
<circle cx="424.2" cy="1222.2" r="12.0"/>
<circle cx="439.2" cy="1211.0" r="12.0"/>
<circle cx="454.5" cy="1201.8" r="12.0"/>
<circle cx="469.3" cy="1190.1" r="12.0"/>
<circle cx="483.1" cy="1168.7" r="12.0"/>
<circle cx="496.0" cy="1135.8" r="12.0"/>
<circle cx="508.0" cy="1104.5" r="12.0"/>
<circle cx="519.7" cy="1086.3" r="12.0"/>
<circle cx="534.0" cy="1028.4" r="12.0"/>
<circle cx="545.7" cy="968.1" r="12.0"/>
<circle cx="560.4" cy="907.0" r="12.0"/>
<circle cx="575.0" cy="842.9" r="12.0"/>
<circle cx="589.6" cy="766.2" r="12.0"/>
<circle cx="604.8" cy="683.5" r="12.0"/>
<circle cx="616.9" cy="599.1" r="12.0"/>
<circle cx="630.0" cy="485.5" r="12.0"/>
<circle cx="643.0" cy="437.0" r="12.0"/>
<circle cx="656.6" cy="350.4" r="12.0"/>
<circle cx="670.3" cy="272.1" r="12.0"/>
<circle cx="686.1" cy="208.0" r="12.0"/>
<circle cx="700.8" cy="165.0" r="12.0"/>
<circle cx="713.8" cy="135.6" r="12.0"/>
<circle cx="727.8" cy="116.1" r="12.0"/>
<circle cx="742.0" cy="107.9" r="12.0"/>
<circle cx="756.3" cy="126.5" r="12.0"/>
<circle cx="771.0" cy="161.2" r="12.0"/>
<circle cx="784.2" cy="208.1" r="12.0"/>
<circle cx="798.1" cy="269.0" r="12.0"/>
<circle cx="812.3" cy="341.3" r="12.0"/>
<circle cx="824.9" cy="399.0" r="12.0"/>
<circle cx="837.8" cy="487.4" r="12.0"/>
<circle cx="850.3" cy="565.6" r="12.0"/>
<circle cx="863.4" cy="641.7" r="12.0"/>
<circle cx="877.3" cy="716.2" r="12.0"/>
<circle cx="891.2" cy="781.4" r="12.0"/>
<circle cx="904.3" cy="831.9" r="12.0"/>
<circle cx="919.8" cy="874.8" r="12.0"/>
<circle cx="932.8" cy="922.4" r="12.0"/>
<circle cx="944.4" cy="958.2" r="12.0"/>
<circle cx="956.3" cy="979.6" r="12.0"/>
<circle cx="969.8" cy="997.6" r="12.0"/>
<circle cx="983.3" cy="1014.5" r="12.0"/>
<circle cx="996.9" cy="1033.7" r="12.0"/>
<circle cx="1010.7" cy="1052.6" r="12.0"/>
<circle cx="1024.9" cy="1053.7" r="12.0"/>
<circle cx="1038.6" cy="1064.0" r="12.0"/>
<circle cx="1052.3" cy="1082.2" r="12.0"/>
<circle cx="1066.0" cy="1099.8" r="12.0"/>
<circle cx="1078.1" cy="1121.8" r="12.0"/>
<circle cx="1091.9" cy="1142.4" r="12.0"/>
<circle cx="1104.7" cy="1170.3" r="12.0"/>
<circle cx="1118.5" cy="1192.2" r="12.0"/>
<circle cx="1132.3" cy="1204.9" r="12.0"/>
<circle cx="1145.1" cy="1221.2" r="12.0"/>
<circle cx="1159.0" cy="1232.7" r="12.0"/>
<circle cx="1172.8" cy="1241.9" r="12.0"/>
<circle cx="1186.7" cy="1253.5" r="12.0"/>
<circle cx="1200.5" cy="1256.9" r="12.0"/>
<circle cx="1214.4" cy="1258.1" r="12.0"/>
<circle cx="1227.2" cy="1263.9" r="12.0"/>
<circle cx="1241.0" cy="1263.9" r="12.0"/>
<circle cx="1253.8" cy="1269.7" r="12.0"/>
<circle cx="1267.6" cy="1270.8" r="12.0"/>
<circle cx="1281.4" cy="1269.7" r="12.0"/>
<circle cx="1294.0" cy="1269.7" r="12.0"/>
<circle cx="1307.6" cy="1273.1" r="12.0"/>
<circle cx="1321.4" cy="1280.1" r="12.0"/>
<circle cx="1335.3" cy="1277.7" r="12.0"/>
<circle cx="1349.1" cy="1277.7" r="12.0"/>
<circle cx="1361.9" cy="1278.9" r="12.0"/>
<circle cx="1375.8" cy="1278.9" r="12.0"/>
<circle cx="1389.6" cy="1276.6" r="12.0"/>
<circle cx="1403.4" cy="1277.7" r="12.0"/>
<circle cx="1416.3" cy="1277.7" r="12.0"/>
<circle cx="1430.1" cy="1281.2" r="12.0"/>
<circle cx="1444.0" cy="1280.1" r="12.0"/>
<circle cx="1457.8" cy="1281.2" r="12.0"/>
<circle cx="1471.8" cy="1280.1" r="12.0"/>
<circle cx="1487.8" cy="1281.2" r="12.0"/>
</g></g>
<g id="s-blue">
<polyline points="261.3,1295.0 273.3,1292.6 285.6,1291.6 299.5,1290.5 313.3,1289.3 327.2,1285.8 341.1,1281.2 355.0,1275.4 368.8,1273.1 382.7,1263.8 396.6,1254.6 410.5,1243.0 425.4,1231.5 440.8,1219.8 457.1,1203.3 471.8,1176.1 484.6,1143.5 496.7,1104.7 509.1,1061.7 522.0,1019.4 536.3,956.0 550.2,886.6 563.9,818.3 578.6,748.3 593.8,665.2 610.3,573.9 625.2,488.2 638.9,396.6 653.5,310.0 666.9,242.9 680.9,193.4 694.7,159.9 707.0,136.3 721.8,114.4 735.7,92.8 751.8,127.6 767.4,170.0 780.1,216.1 794.2,296.8 809.3,359.9 822.6,425.8 836.5,502.3 850.0,581.7 863.3,660.6 876.6,737.2 890.6,811.7 903.1,871.1 915.7,919.1 930.2,968.2 944.8,1010.8 958.4,1033.5 970.8,1056.8 984.5,1085.9 999.3,1104.2 1012.2,1124.1 1027.1,1135.5 1040.0,1156.4 1054.9,1156.4 1068.8,1176.0 1082.6,1200.2 1096.5,1215.3 1110.4,1233.8 1123.2,1252.4 1138.1,1262.7 1152.0,1270.8 1165.8,1278.9 1178.7,1283.5 1192.5,1287.0 1206.4,1289.3 1220.2,1293.9 1234.1,1292.8 1246.9,1295.1 1260.8,1293.9 1274.6,1293.9 1288.8,1296.3 1303.0,1298.6 1317.9,1299.7 1331.8,1300.9 1345.7,1304.3 1359.6,1303.2 1373.4,1304.3 1387.3,1303.2 1401.2,1304.3 1415.1,1303.2 1428.9,1305.5 1442.8,1303.2 1456.7,1300.9 1470.6,1303.2 1485.3,1302.0 1501.6,1307.8" fill="none" stroke="#0000ff" stroke-width="9.1" stroke-linejoin="round" stroke-linecap="round"/>
<g fill="url(#g-blue)">
<circle cx="261.3" cy="1295.0" r="12.1"/>
<circle cx="273.3" cy="1292.6" r="12.1"/>
<circle cx="285.6" cy="1291.6" r="12.1"/>
<circle cx="299.5" cy="1290.5" r="12.1"/>
<circle cx="313.3" cy="1289.3" r="12.1"/>
<circle cx="327.2" cy="1285.8" r="12.1"/>
<circle cx="341.1" cy="1281.2" r="12.1"/>
<circle cx="355.0" cy="1275.4" r="12.1"/>
<circle cx="368.8" cy="1273.1" r="12.1"/>
<circle cx="382.7" cy="1263.8" r="12.1"/>
<circle cx="396.6" cy="1254.6" r="12.1"/>
<circle cx="410.5" cy="1243.0" r="12.1"/>
<circle cx="425.4" cy="1231.5" r="12.1"/>
<circle cx="440.8" cy="1219.8" r="12.1"/>
<circle cx="457.1" cy="1203.3" r="12.1"/>
<circle cx="471.8" cy="1176.1" r="12.1"/>
<circle cx="484.6" cy="1143.5" r="12.1"/>
<circle cx="496.7" cy="1104.7" r="12.1"/>
<circle cx="509.1" cy="1061.7" r="12.1"/>
<circle cx="522.0" cy="1019.4" r="12.1"/>
<circle cx="536.3" cy="956.0" r="12.1"/>
<circle cx="550.2" cy="886.6" r="12.1"/>
<circle cx="563.9" cy="818.3" r="12.1"/>
<circle cx="578.6" cy="748.3" r="12.1"/>
<circle cx="593.8" cy="665.2" r="12.1"/>
<circle cx="610.3" cy="573.9" r="12.1"/>
<circle cx="625.2" cy="488.2" r="12.1"/>
<circle cx="638.9" cy="396.6" r="12.1"/>
<circle cx="653.5" cy="310.0" r="12.1"/>
<circle cx="666.9" cy="242.9" r="12.1"/>
<circle cx="680.9" cy="193.4" r="12.1"/>
<circle cx="694.7" cy="159.9" r="12.1"/>
<circle cx="707.0" cy="136.3" r="12.1"/>
<circle cx="721.8" cy="114.4" r="12.1"/>
<circle cx="735.7" cy="92.8" r="12.1"/>
<circle cx="751.8" cy="127.6" r="12.1"/>
<circle cx="767.4" cy="170.0" r="12.1"/>
<circle cx="780.1" cy="216.1" r="12.1"/>
<circle cx="794.2" cy="296.8" r="12.1"/>
<circle cx="809.3" cy="359.9" r="12.1"/>
<circle cx="822.6" cy="425.8" r="12.1"/>
<circle cx="836.5" cy="502.3" r="12.1"/>
<circle cx="850.0" cy="581.7" r="12.1"/>
<circle cx="863.3" cy="660.6" r="12.1"/>
<circle cx="876.6" cy="737.2" r="12.1"/>
<circle cx="890.6" cy="811.7" r="12.1"/>
<circle cx="903.1" cy="871.1" r="12.1"/>
<circle cx="915.7" cy="919.1" r="12.1"/>
<circle cx="930.2" cy="968.2" r="12.1"/>
<circle cx="944.8" cy="1010.8" r="12.1"/>
<circle cx="958.4" cy="1033.5" r="12.1"/>
<circle cx="970.8" cy="1056.8" r="12.1"/>
<circle cx="984.5" cy="1085.9" r="12.1"/>
<circle cx="999.3" cy="1104.2" r="12.1"/>
<circle cx="1012.2" cy="1124.1" r="12.1"/>
<circle cx="1027.1" cy="1135.5" r="12.1"/>
<circle cx="1040.0" cy="1156.4" r="12.1"/>
<circle cx="1054.9" cy="1156.4" r="12.1"/>
<circle cx="1068.8" cy="1176.0" r="12.1"/>
<circle cx="1082.6" cy="1200.2" r="12.1"/>
<circle cx="1096.5" cy="1215.3" r="12.1"/>
<circle cx="1110.4" cy="1233.8" r="12.1"/>
<circle cx="1123.2" cy="1252.4" r="12.1"/>
<circle cx="1138.1" cy="1262.7" r="12.1"/>
<circle cx="1152.0" cy="1270.8" r="12.1"/>
<circle cx="1165.8" cy="1278.9" r="12.1"/>
<circle cx="1178.7" cy="1283.5" r="12.1"/>
<circle cx="1192.5" cy="1287.0" r="12.1"/>
<circle cx="1206.4" cy="1289.3" r="12.1"/>
<circle cx="1220.2" cy="1293.9" r="12.1"/>
<circle cx="1234.1" cy="1292.8" r="12.1"/>
<circle cx="1246.9" cy="1295.1" r="12.1"/>
<circle cx="1260.8" cy="1293.9" r="12.1"/>
<circle cx="1274.6" cy="1293.9" r="12.1"/>
<circle cx="1288.8" cy="1296.3" r="12.1"/>
<circle cx="1303.0" cy="1298.6" r="12.1"/>
<circle cx="1317.9" cy="1299.7" r="12.1"/>
<circle cx="1331.8" cy="1300.9" r="12.1"/>
<circle cx="1345.7" cy="1304.3" r="12.1"/>
<circle cx="1359.6" cy="1303.2" r="12.1"/>
<circle cx="1373.4" cy="1304.3" r="12.1"/>
<circle cx="1387.3" cy="1303.2" r="12.1"/>
<circle cx="1401.2" cy="1304.3" r="12.1"/>
<circle cx="1415.1" cy="1303.2" r="12.1"/>
<circle cx="1428.9" cy="1305.5" r="12.1"/>
<circle cx="1442.8" cy="1303.2" r="12.1"/>
<circle cx="1456.7" cy="1300.9" r="12.1"/>
<circle cx="1470.6" cy="1303.2" r="12.1"/>
<circle cx="1485.3" cy="1302.0" r="12.1"/>
<circle cx="1501.6" cy="1307.8" r="12.1"/>
</g></g>
<g id="s-red">
<polyline points="245.1,1319.4 257.4,1320.5 270.6,1319.4 285.5,1318.2 299.5,1314.7 314.4,1309.0 328.3,1305.5 342.3,1298.5 357.2,1295.1 371.1,1291.6 385.0,1278.9 398.9,1274.2 413.8,1254.7 427.7,1231.5 441.6,1207.2 455.6,1174.7 469.5,1142.2 484.5,1108.7 500.4,1054.4 514.1,1003.1 528.7,941.2 542.8,852.8 557.0,779.3 571.8,699.4 586.2,634.0 600.1,555.7 614.5,465.5 629.1,375.4 643.0,287.9 657.4,214.7 671.7,178.5 686.3,130.5 700.0,100.6 714.7,98.8 730.7,111.8 745.1,140.2 759.7,192.8 774.0,262.3 789.0,319.5 802.7,391.2 817.3,475.7 831.4,546.0 846.0,634.8 860.6,714.6 873.8,798.1 888.4,868.8 903.0,934.1 917.1,983.9 931.3,1011.0 945.3,1053.7 959.3,1090.9 972.9,1126.4 987.8,1141.3 1001.8,1161.0 1016.7,1180.6 1030.6,1195.6 1044.5,1211.9 1058.4,1229.2 1073.4,1234.9 1087.3,1253.5 1101.2,1267.4 1115.1,1280.1 1130.0,1291.6 1143.9,1303.2 1157.9,1307.8 1172.8,1313.6 1186.7,1315.9 1200.6,1319.4 1215.6,1319.4 1229.5,1320.5 1244.4,1320.5 1258.1,1326.3 1272.0,1330.9 1285.9,1329.8 1300.6,1327.5 1314.5,1333.2 1328.4,1333.2 1342.3,1332.1 1357.2,1333.2 1371.1,1333.2 1385.1,1332.1 1400.0,1330.9 1413.9,1333.2 1427.8,1334.4 1441.7,1333.2 1456.6,1336.7 1470.6,1334.4 1484.5,1333.2 1499.9,1333.2 1516.7,1333.2" fill="none" stroke="#ff0000" stroke-width="9.6" stroke-linejoin="round" stroke-linecap="round"/>
<g fill="url(#g-red)">
<circle cx="245.1" cy="1319.4" r="12.4"/>
<circle cx="257.4" cy="1320.5" r="12.4"/>
<circle cx="270.6" cy="1319.4" r="12.4"/>
<circle cx="285.5" cy="1318.2" r="12.4"/>
<circle cx="299.5" cy="1314.7" r="12.4"/>
<circle cx="314.4" cy="1309.0" r="12.4"/>
<circle cx="328.3" cy="1305.5" r="12.4"/>
<circle cx="342.3" cy="1298.5" r="12.4"/>
<circle cx="357.2" cy="1295.1" r="12.4"/>
<circle cx="371.1" cy="1291.6" r="12.4"/>
<circle cx="385.0" cy="1278.9" r="12.4"/>
<circle cx="398.9" cy="1274.2" r="12.4"/>
<circle cx="413.8" cy="1254.7" r="12.4"/>
<circle cx="427.7" cy="1231.5" r="12.4"/>
<circle cx="441.6" cy="1207.2" r="12.4"/>
<circle cx="455.6" cy="1174.7" r="12.4"/>
<circle cx="469.5" cy="1142.2" r="12.4"/>
<circle cx="484.5" cy="1108.7" r="12.4"/>
<circle cx="500.4" cy="1054.4" r="12.4"/>
<circle cx="514.1" cy="1003.1" r="12.4"/>
<circle cx="528.7" cy="941.2" r="12.4"/>
<circle cx="542.8" cy="852.8" r="12.4"/>
<circle cx="557.0" cy="779.3" r="12.4"/>
<circle cx="571.8" cy="699.4" r="12.4"/>
<circle cx="586.2" cy="634.0" r="12.4"/>
<circle cx="600.1" cy="555.7" r="12.4"/>
<circle cx="614.5" cy="465.5" r="12.4"/>
<circle cx="629.1" cy="375.4" r="12.4"/>
<circle cx="643.0" cy="287.9" r="12.4"/>
<circle cx="657.4" cy="214.7" r="12.4"/>
<circle cx="671.7" cy="178.5" r="12.4"/>
<circle cx="686.3" cy="130.5" r="12.4"/>
<circle cx="700.0" cy="100.6" r="12.4"/>
<circle cx="714.7" cy="98.8" r="12.4"/>
<circle cx="730.7" cy="111.8" r="12.4"/>
<circle cx="745.1" cy="140.2" r="12.4"/>
<circle cx="759.7" cy="192.8" r="12.4"/>
<circle cx="774.0" cy="262.3" r="12.4"/>
<circle cx="789.0" cy="319.5" r="12.4"/>
<circle cx="802.7" cy="391.2" r="12.4"/>
<circle cx="817.3" cy="475.7" r="12.4"/>
<circle cx="831.4" cy="546.0" r="12.4"/>
<circle cx="846.0" cy="634.8" r="12.4"/>
<circle cx="860.6" cy="714.6" r="12.4"/>
<circle cx="873.8" cy="798.1" r="12.4"/>
<circle cx="888.4" cy="868.8" r="12.4"/>
<circle cx="903.0" cy="934.1" r="12.4"/>
<circle cx="917.1" cy="983.9" r="12.4"/>
<circle cx="931.3" cy="1011.0" r="12.4"/>
<circle cx="945.3" cy="1053.7" r="12.4"/>
<circle cx="959.3" cy="1090.9" r="12.4"/>
<circle cx="972.9" cy="1126.4" r="12.4"/>
<circle cx="987.8" cy="1141.3" r="12.4"/>
<circle cx="1001.8" cy="1161.0" r="12.4"/>
<circle cx="1016.7" cy="1180.6" r="12.4"/>
<circle cx="1030.6" cy="1195.6" r="12.4"/>
<circle cx="1044.5" cy="1211.9" r="12.4"/>
<circle cx="1058.4" cy="1229.2" r="12.4"/>
<circle cx="1073.4" cy="1234.9" r="12.4"/>
<circle cx="1087.3" cy="1253.5" r="12.4"/>
<circle cx="1101.2" cy="1267.4" r="12.4"/>
<circle cx="1115.1" cy="1280.1" r="12.4"/>
<circle cx="1130.0" cy="1291.6" r="12.4"/>
<circle cx="1143.9" cy="1303.2" r="12.4"/>
<circle cx="1157.9" cy="1307.8" r="12.4"/>
<circle cx="1172.8" cy="1313.6" r="12.4"/>
<circle cx="1186.7" cy="1315.9" r="12.4"/>
<circle cx="1200.6" cy="1319.4" r="12.4"/>
<circle cx="1215.6" cy="1319.4" r="12.4"/>
<circle cx="1229.5" cy="1320.5" r="12.4"/>
<circle cx="1244.4" cy="1320.5" r="12.4"/>
<circle cx="1258.1" cy="1326.3" r="12.4"/>
<circle cx="1272.0" cy="1330.9" r="12.4"/>
<circle cx="1285.9" cy="1329.8" r="12.4"/>
<circle cx="1300.6" cy="1327.5" r="12.4"/>
<circle cx="1314.5" cy="1333.2" r="12.4"/>
<circle cx="1328.4" cy="1333.2" r="12.4"/>
<circle cx="1342.3" cy="1332.1" r="12.4"/>
<circle cx="1357.2" cy="1333.2" r="12.4"/>
<circle cx="1371.1" cy="1333.2" r="12.4"/>
<circle cx="1385.1" cy="1332.1" r="12.4"/>
<circle cx="1400.0" cy="1330.9" r="12.4"/>
<circle cx="1413.9" cy="1333.2" r="12.4"/>
<circle cx="1427.8" cy="1334.4" r="12.4"/>
<circle cx="1441.7" cy="1333.2" r="12.4"/>
<circle cx="1456.6" cy="1336.7" r="12.4"/>
<circle cx="1470.6" cy="1334.4" r="12.4"/>
<circle cx="1484.5" cy="1333.2" r="12.4"/>
<circle cx="1499.9" cy="1333.2" r="12.4"/>
<circle cx="1516.7" cy="1333.2" r="12.4"/>
</g></g>
<g id="labels">
<text transform="translate(363.0 1460) scale(0.955 1)" font-size="64" text-anchor="middle">106</text>
<text transform="translate(659.5 1460) scale(0.955 1)" font-size="64" text-anchor="middle">104</text>
<text transform="translate(952.5 1460) scale(0.955 1)" font-size="64" text-anchor="middle">102</text>
<text transform="translate(1245.0 1460) scale(0.955 1)" font-size="64" text-anchor="middle">100</text>
<text transform="translate(1543.5 1460) scale(0.955 1)" font-size="64" text-anchor="middle">98</text>
<text x="918.5" y="1541" font-size="80" font-weight="bold" text-anchor="middle" textLength="792" lengthAdjust="spacingAndGlyphs">Binding Energy (eV)</text>
<text transform="translate(148.5 766.5) rotate(-90)" font-size="78" font-weight="bold" text-anchor="middle" textLength="561" lengthAdjust="spacingAndGlyphs">Norm. Intensity</text>
<text transform="translate(1435.5 1157) scale(0.965 1)" font-size="72">SiC</text>
<text transform="translate(1556 1390) scale(0.965 1)" font-size="72">SiO<tspan font-size="48" dx="3" dy="19.5">2</tspan></text>
<line x1="1593" y1="1316" x2="1522" y2="1198" stroke="#222" stroke-width="2.2"/>
<polygon points="1505,1172.5 1536.5,1191 1509.5,1209.5" fill="#000"/>
</g>
</g>
</svg></body></html>
